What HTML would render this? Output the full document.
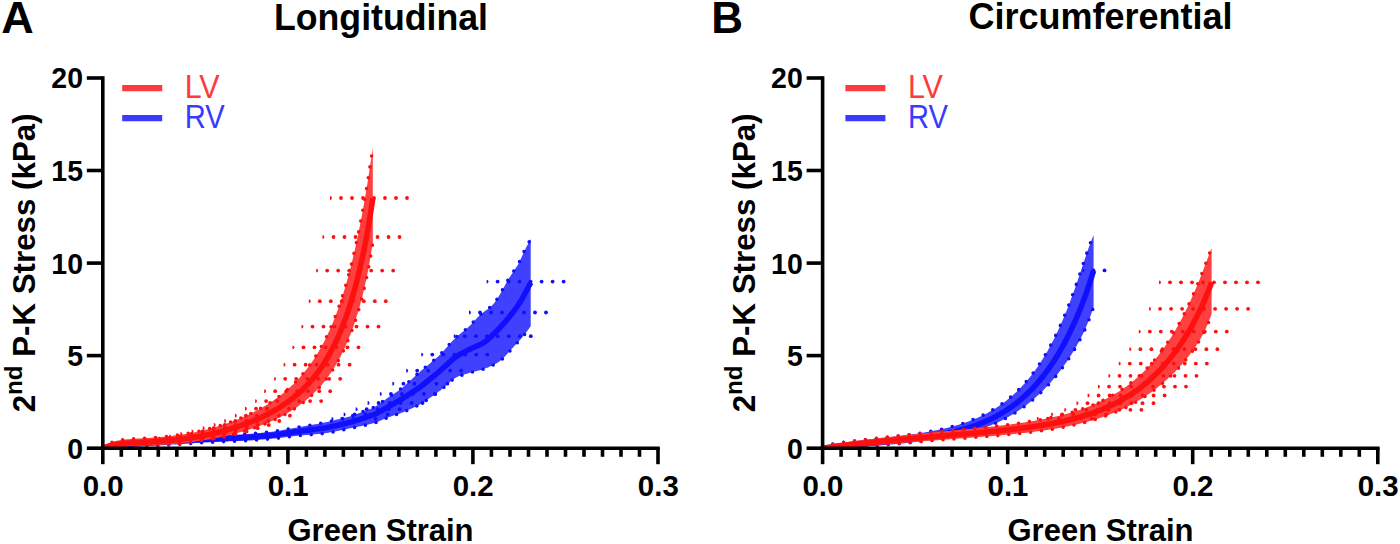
<!DOCTYPE html>
<html><head><meta charset="utf-8"><style>
html,body{margin:0;padding:0;background:#fff;width:1400px;height:544px;overflow:hidden}
svg{display:block}
text{font-family:"Liberation Sans",sans-serif}
.tk{font-size:30px;font-weight:bold;fill:#000}
.pl{font-size:43px;font-weight:bold;fill:#000}
.ti{font-size:36px;font-weight:bold;fill:#000}
.xl{font-size:31px;font-weight:bold;fill:#000}
.yl{font-size:31.3px;font-weight:bold;fill:#000}
.lg{font-size:32.5px;font-weight:normal}
</style></head><body>
<svg width="1400" height="544" viewBox="0 0 1400 544">
<defs><clipPath id="cpA"><rect x="104" y="0" width="600" height="448.5"/></clipPath><clipPath id="cpB"><rect x="824" y="0" width="576" height="448.5"/></clipPath></defs><g clip-path="url(#cpA)"><path d="M102.8,448.2 L104.7,447.6 L106.6,447.0 L108.6,446.5 L110.5,445.9 L112.4,445.3 L114.3,444.7 L116.2,444.1 L118.2,443.6 L120.1,443.0 L122.0,442.5 L124.0,442.1 L125.9,441.7 L127.9,441.4 L129.9,441.2 L131.9,441.0 L133.9,440.8 L135.9,440.6 L137.9,440.5 L139.9,440.3 L141.9,440.1 L143.9,440.0 L145.9,439.8 L147.9,439.7 L149.9,439.5 L151.9,439.3 L153.9,439.2 L155.9,439.0 L157.9,438.9 L159.9,438.7 L161.9,438.5 L163.9,438.4 L165.9,438.2 L167.9,438.1 L169.9,437.9 L171.9,437.8 L173.9,437.6 L175.9,437.5 L177.9,437.3 L179.9,437.2 L181.9,437.1 L183.9,437.0 L185.9,436.8 L187.9,436.7 L189.9,436.6 L191.9,436.5 L193.9,436.4 L195.9,436.3 L197.9,436.2 L199.9,436.1 L201.9,436.0 L203.9,435.9 L205.9,435.9 L208.0,435.8 L210.0,435.8 L212.0,435.7 L214.0,435.7 L216.0,435.6 L218.0,435.6 L220.0,435.5 L222.0,435.5 L224.0,435.4 L226.0,435.3 L228.0,435.2 L230.0,435.1 L232.0,435.0 L234.0,434.9 L236.0,434.7 L238.0,434.6 L240.0,434.5 L242.0,434.4 L244.0,434.3 L246.0,434.1 L248.0,434.0 L250.0,433.8 L252.0,433.7 L254.0,433.5 L256.0,433.3 L258.0,433.1 L260.0,432.9 L262.0,432.7 L264.0,432.5 L266.0,432.3 L268.0,432.1 L270.0,431.9 L272.0,431.7 L274.0,431.4 L276.0,431.1 L278.0,430.8 L279.9,430.5 L281.9,430.2 L283.9,429.8 L285.9,429.5 L287.8,429.1 L289.8,428.8 L291.8,428.4 L293.8,428.1 L295.8,427.7 L297.7,427.4 L299.7,427.0 L301.7,426.7 L303.7,426.3 L305.6,426.0 L307.6,425.6 L309.6,425.3 L311.6,424.9 L313.5,424.6 L315.5,424.2 L317.5,423.9 L319.5,423.5 L321.4,423.1 L323.4,422.7 L325.4,422.3 L327.3,421.9 L329.3,421.5 L331.2,421.0 L333.2,420.6 L335.1,420.1 L337.1,419.6 L339.0,419.2 L341.0,418.7 L342.9,418.3 L344.9,417.8 L346.8,417.3 L348.8,416.7 L350.7,416.2 L352.6,415.5 L354.5,414.9 L356.4,414.2 L358.2,413.5 L360.1,412.8 L362.0,412.0 L363.9,411.3 L365.7,410.6 L367.6,409.9 L369.5,409.2 L371.3,408.4 L373.1,407.6 L374.9,406.7 L376.6,405.7 L378.3,404.6 L380.0,403.5 L381.6,402.3 L383.2,401.1 L384.8,400.0 L386.5,398.8 L388.1,397.6 L389.8,396.5 L391.4,395.4 L393.1,394.3 L394.8,393.2 L396.5,392.1 L398.1,390.9 L399.7,389.8 L401.3,388.5 L402.8,387.2 L404.3,385.9 L405.8,384.6 L407.3,383.2 L408.8,381.9 L410.3,380.5 L411.8,379.2 L413.3,377.8 L414.7,376.5 L416.2,375.1 L417.7,373.8 L419.2,372.5 L420.7,371.1 L422.3,369.8 L423.8,368.5 L425.3,367.3 L426.9,366.0 L428.4,364.7 L429.9,363.4 L431.5,362.1 L433.0,360.8 L434.6,359.5 L436.1,358.2 L437.6,356.9 L439.1,355.6 L440.5,354.2 L441.9,352.7 L443.3,351.3 L444.6,349.8 L445.9,348.3 L447.3,346.8 L448.6,345.3 L449.9,343.8 L451.3,342.3 L452.6,340.8 L454.0,339.4 L455.4,338.0 L456.9,336.6 L458.4,335.3 L460.0,334.0 L461.5,332.8 L463.1,331.5 L464.7,330.3 L466.2,329.0 L467.7,327.7 L469.2,326.3 L470.7,325.0 L472.0,323.5 L473.4,322.0 L474.7,320.5 L476.1,319.1 L477.4,317.6 L478.8,316.2 L480.3,314.8 L481.8,313.5 L483.4,312.3 L485.0,311.1 L486.6,309.9 L488.2,308.8 L489.8,307.5 L491.3,306.2 L492.7,304.8 L494.0,303.3 L495.2,301.7 L496.3,300.1 L497.5,298.5 L498.5,296.8 L499.6,295.1 L500.6,293.3 L501.5,291.6 L502.5,289.8 L503.5,288.0 L504.4,286.3 L505.4,284.5 L506.4,282.8 L507.3,281.0 L508.4,279.3 L509.4,277.6 L510.5,275.9 L511.6,274.2 L512.7,272.6 L513.9,270.9 L515.0,269.3 L516.1,267.6 L517.2,265.9 L518.2,264.2 L519.2,262.5 L520.0,260.7 L520.9,258.8 L521.7,257.0 L522.5,255.2 L523.3,253.3 L524.1,251.5 L525.0,249.7 L525.9,247.9 L526.9,246.1 L527.8,244.4 L528.8,242.6 L529.7,240.9 L530.7,239.1 L530.7,326.2 L529.6,327.8 L528.4,329.5 L527.2,331.1 L526.0,332.7 L524.8,334.3 L523.5,335.8 L522.2,337.3 L520.9,338.9 L519.5,340.4 L518.2,341.9 L516.8,343.3 L515.5,344.8 L514.1,346.3 L512.8,347.8 L511.4,349.3 L510.1,350.8 L508.7,352.3 L507.4,353.7 L506.0,355.2 L504.6,356.7 L503.3,358.1 L501.8,359.5 L500.3,360.8 L498.7,361.9 L497.1,363.0 L495.3,363.9 L493.5,364.8 L491.7,365.7 L489.9,366.5 L488.1,367.4 L486.2,368.1 L484.3,368.8 L482.4,369.4 L480.5,370.0 L478.6,370.5 L476.6,371.0 L474.7,371.5 L472.7,372.0 L470.8,372.6 L468.9,373.1 L466.9,373.7 L465.0,374.2 L463.1,374.8 L461.2,375.4 L459.3,376.1 L457.5,376.8 L455.7,377.7 L454.0,378.7 L452.4,379.9 L450.9,381.1 L449.4,382.4 L447.9,383.8 L446.4,385.1 L444.9,386.5 L443.4,387.8 L441.9,389.1 L440.4,390.4 L438.8,391.6 L437.2,392.8 L435.6,394.0 L433.9,395.2 L432.3,396.3 L430.6,397.4 L429.0,398.6 L427.3,399.7 L425.6,400.8 L424.0,401.9 L422.3,403.0 L420.6,404.1 L418.8,405.0 L417.0,405.9 L415.2,406.8 L413.4,407.7 L411.6,408.5 L409.8,409.3 L407.9,410.1 L406.1,410.9 L404.2,411.8 L402.4,412.5 L400.5,413.2 L398.6,413.9 L396.7,414.5 L394.8,415.1 L392.9,415.7 L391.0,416.4 L389.1,417.0 L387.2,417.7 L385.4,418.5 L383.5,419.3 L381.7,420.1 L379.9,420.9 L378.0,421.7 L376.1,422.4 L374.2,423.0 L372.3,423.5 L370.4,424.0 L368.4,424.5 L366.5,424.9 L364.5,425.3 L362.5,425.7 L360.6,426.2 L358.6,426.6 L356.6,427.0 L354.7,427.4 L352.7,427.8 L350.7,428.2 L348.8,428.6 L346.8,429.0 L344.8,429.4 L342.9,429.9 L340.9,430.3 L338.9,430.7 L337.0,431.1 L335.0,431.5 L333.0,431.9 L331.1,432.2 L329.1,432.6 L327.1,433.0 L325.1,433.3 L323.2,433.5 L321.2,433.7 L319.2,433.9 L317.2,434.1 L315.2,434.2 L313.2,434.4 L311.2,434.6 L309.2,434.7 L307.1,434.9 L305.1,435.0 L303.1,435.2 L301.1,435.4 L299.1,435.6 L297.2,435.8 L295.2,436.0 L293.2,436.3 L291.2,436.5 L289.2,436.7 L287.2,437.0 L285.2,437.2 L283.2,437.5 L281.2,437.7 L279.2,438.0 L277.2,438.2 L275.2,438.4 L273.2,438.6 L271.2,438.8 L269.2,439.0 L267.2,439.1 L265.2,439.3 L263.2,439.4 L261.2,439.6 L259.2,439.8 L257.2,439.9 L255.2,440.1 L253.2,440.2 L251.2,440.4 L249.2,440.5 L247.2,440.6 L245.2,440.7 L243.2,440.8 L241.2,440.9 L239.2,440.9 L237.2,441.0 L235.2,441.1 L233.1,441.2 L231.1,441.3 L229.1,441.3 L227.1,441.4 L225.1,441.5 L223.1,441.6 L221.1,441.7 L219.1,441.8 L217.1,441.9 L215.1,442.0 L213.1,442.1 L211.1,442.2 L209.1,442.3 L207.1,442.4 L205.1,442.5 L203.1,442.6 L201.1,442.8 L199.0,442.9 L197.0,443.0 L195.0,443.1 L193.0,443.3 L191.0,443.4 L189.0,443.5 L187.0,443.7 L185.0,443.8 L183.0,444.0 L181.0,444.1 L179.0,444.2 L177.0,444.4 L175.0,444.5 L173.0,444.6 L171.0,444.7 L169.0,444.9 L167.0,445.0 L165.0,445.1 L163.0,445.2 L161.0,445.3 L159.0,445.5 L157.0,445.6 L155.0,445.7 L152.9,445.8 L150.9,445.9 L148.9,446.1 L146.9,446.2 L144.9,446.3 L142.9,446.4 L140.9,446.5 L138.9,446.7 L136.9,446.8 L134.9,446.9 L132.9,447.0 L130.9,447.1 L128.9,447.3 L126.9,447.4 L124.9,447.5 L122.9,447.5 L120.9,447.6 L118.9,447.7 L116.9,447.8 L114.8,447.8 L112.8,447.9 L110.8,447.9 L108.8,448.0 L106.8,448.1 L104.8,448.1 L102.8,448.2 Z" fill="#4040ff"/><path d="M102.8,448.2 L104.7,447.6 L106.6,447.0 L108.6,446.5 L110.5,445.9 L112.4,445.3 L114.3,444.7 L116.2,444.1 L118.2,443.6 L120.1,443.0 L122.0,442.5 L124.0,442.1 L125.9,441.7 L127.9,441.4 L129.9,441.2 L131.9,441.0 L133.9,440.8 L135.9,440.6 L137.9,440.5 L139.9,440.3 L141.9,440.1 L143.9,440.0 L145.9,439.8 L147.9,439.7 L149.9,439.5 L151.9,439.3 L153.9,439.2 L155.9,439.0 L157.9,438.9 L159.9,438.7 L161.9,438.5 L163.9,438.4 L165.9,438.2 L167.9,438.1 L169.9,437.9 L171.9,437.8 L173.9,437.6 L175.9,437.5 L177.9,437.3 L179.9,437.2 L181.9,437.1 L183.9,437.0 L185.9,436.8 L187.9,436.7 L189.9,436.6 L191.9,436.5 L193.9,436.4 L195.9,436.3 L197.9,436.2 L199.9,436.1 L201.9,436.0 L203.9,435.9 L205.9,435.9 L208.0,435.8 L210.0,435.8 L212.0,435.7 L214.0,435.7 L216.0,435.6 L218.0,435.6 L220.0,435.5 L222.0,435.5 L224.0,435.4 L226.0,435.3 L228.0,435.2 L230.0,435.1 L232.0,435.0 L234.0,434.9 L236.0,434.7 L238.0,434.6 L240.0,434.5 L242.0,434.4 L244.0,434.3 L246.0,434.1 L248.0,434.0 L250.0,433.8 L252.0,433.7 L254.0,433.5 L256.0,433.3 L258.0,433.1 L260.0,432.9 L262.0,432.7 L264.0,432.5 L266.0,432.3 L268.0,432.1 L270.0,431.9 L272.0,431.7 L274.0,431.4 L276.0,431.1 L278.0,430.8 L279.9,430.5 L281.9,430.2 L283.9,429.8 L285.9,429.5 L287.8,429.1 L289.8,428.8 L291.8,428.4 L293.8,428.1 L295.8,427.7 L297.7,427.4 L299.7,427.0 L301.7,426.7 L303.7,426.3 L305.6,426.0 L307.6,425.6 L309.6,425.3 L311.6,424.9 L313.5,424.6 L315.5,424.2 L317.5,423.9 L319.5,423.5 L321.4,423.1 L323.4,422.7 L325.4,422.3 L327.3,421.9 L329.3,421.5 L331.2,421.0 L333.2,420.6 L335.1,420.1 L337.1,419.6 L339.0,419.2 L341.0,418.7 L342.9,418.3 L344.9,417.8 L346.8,417.3 L348.8,416.7 L350.7,416.2 L352.6,415.5 L354.5,414.9 L356.4,414.2 L358.2,413.5 L360.1,412.8 L362.0,412.0 L363.9,411.3 L365.7,410.6 L367.6,409.9 L369.5,409.2 L371.3,408.4 L373.1,407.6 L374.9,406.7 L376.6,405.7 L378.3,404.6 L380.0,403.5 L381.6,402.3 L383.2,401.1 L384.8,400.0 L386.5,398.8 L388.1,397.6 L389.8,396.5 L391.4,395.4 L393.1,394.3 L394.8,393.2 L396.5,392.1 L398.1,390.9 L399.7,389.8 L401.3,388.5 L402.8,387.2 L404.3,385.9 L405.8,384.6 L407.3,383.2 L408.8,381.9 L410.3,380.5 L411.8,379.2 L413.3,377.8 L414.7,376.5 L416.2,375.1 L417.7,373.8 L419.2,372.5 L420.7,371.1 L422.3,369.8 L423.8,368.5 L425.3,367.3 L426.9,366.0 L428.4,364.7 L429.9,363.4 L431.5,362.1 L433.0,360.8 L434.6,359.5 L436.1,358.2 L437.6,356.9 L439.1,355.6 L440.5,354.2 L441.9,352.7 L443.3,351.3 L444.6,349.8 L445.9,348.3 L447.3,346.8 L448.6,345.3 L449.9,343.8 L451.3,342.3 L452.6,340.8 L454.0,339.4 L455.4,338.0 L456.9,336.6 L458.4,335.3 L460.0,334.0 L461.5,332.8 L463.1,331.5 L464.7,330.3 L466.2,329.0 L467.7,327.7 L469.2,326.3 L470.7,325.0 L472.0,323.5 L473.4,322.0 L474.7,320.5 L476.1,319.1 L477.4,317.6 L478.8,316.2 L480.3,314.8 L481.8,313.5 L483.4,312.3 L485.0,311.1 L486.6,309.9 L488.2,308.8 L489.8,307.5 L491.3,306.2 L492.7,304.8 L494.0,303.3 L495.2,301.7 L496.3,300.1 L497.5,298.5 L498.5,296.8 L499.6,295.1 L500.6,293.3 L501.5,291.6 L502.5,289.8 L503.5,288.0 L504.4,286.3 L505.4,284.5 L506.4,282.8 L507.3,281.0 L508.4,279.3 L509.4,277.6 L510.5,275.9 L511.6,274.2 L512.7,272.6 L513.9,270.9 L515.0,269.3 L516.1,267.6 L517.2,265.9 L518.2,264.2 L519.2,262.5 L520.0,260.7 L520.9,258.8 L521.7,257.0 L522.5,255.2 L523.3,253.3 L524.1,251.5 L525.0,249.7 L525.9,247.9 L526.9,246.1 L527.8,244.4 L528.8,242.6 L529.7,240.9 L530.7,239.1" fill="none" stroke="#1010ff" stroke-width="3.6" stroke-linecap="round" stroke-dasharray="0 11"/><path d="M102.8,448.2 L104.8,448.1 L106.8,448.1 L108.8,448.0 L110.8,447.9 L112.8,447.9 L114.8,447.8 L116.9,447.8 L118.9,447.7 L120.9,447.6 L122.9,447.5 L124.9,447.5 L126.9,447.4 L128.9,447.3 L130.9,447.1 L132.9,447.0 L134.9,446.9 L136.9,446.8 L138.9,446.7 L140.9,446.5 L142.9,446.4 L144.9,446.3 L146.9,446.2 L148.9,446.1 L150.9,445.9 L152.9,445.8 L155.0,445.7 L157.0,445.6 L159.0,445.5 L161.0,445.3 L163.0,445.2 L165.0,445.1 L167.0,445.0 L169.0,444.9 L171.0,444.7 L173.0,444.6 L175.0,444.5 L177.0,444.4 L179.0,444.2 L181.0,444.1 L183.0,444.0 L185.0,443.8 L187.0,443.7 L189.0,443.5 L191.0,443.4 L193.0,443.3 L195.0,443.1 L197.0,443.0 L199.0,442.9 L201.1,442.8 L203.1,442.6 L205.1,442.5 L207.1,442.4 L209.1,442.3 L211.1,442.2 L213.1,442.1 L215.1,442.0 L217.1,441.9 L219.1,441.8 L221.1,441.7 L223.1,441.6 L225.1,441.5 L227.1,441.4 L229.1,441.3 L231.1,441.3 L233.1,441.2 L235.2,441.1 L237.2,441.0 L239.2,440.9 L241.2,440.9 L243.2,440.8 L245.2,440.7 L247.2,440.6 L249.2,440.5 L251.2,440.4 L253.2,440.2 L255.2,440.1 L257.2,439.9 L259.2,439.8 L261.2,439.6 L263.2,439.4 L265.2,439.3 L267.2,439.1 L269.2,439.0 L271.2,438.8 L273.2,438.6 L275.2,438.4 L277.2,438.2 L279.2,438.0 L281.2,437.7 L283.2,437.5 L285.2,437.2 L287.2,437.0 L289.2,436.7 L291.2,436.5 L293.2,436.3 L295.2,436.0 L297.2,435.8 L299.1,435.6 L301.1,435.4 L303.1,435.2 L305.1,435.0 L307.1,434.9 L309.2,434.7 L311.2,434.6 L313.2,434.4 L315.2,434.2 L317.2,434.1 L319.2,433.9 L321.2,433.7 L323.2,433.5 L325.1,433.3 L327.1,433.0 L329.1,432.6 L331.1,432.2 L333.0,431.9 L335.0,431.5 L337.0,431.1 L338.9,430.7 L340.9,430.3 L342.9,429.9 L344.8,429.4 L346.8,429.0 L348.8,428.6 L350.7,428.2 L352.7,427.8 L354.7,427.4 L356.6,427.0 L358.6,426.6 L360.6,426.2 L362.5,425.7 L364.5,425.3 L366.5,424.9 L368.4,424.5 L370.4,424.0 L372.3,423.5 L374.2,423.0 L376.1,422.4 L378.0,421.7 L379.9,420.9 L381.7,420.1 L383.5,419.3 L385.4,418.5 L387.2,417.7 L389.1,417.0 L391.0,416.4 L392.9,415.7 L394.8,415.1 L396.7,414.5 L398.6,413.9 L400.5,413.2 L402.4,412.5 L404.2,411.8 L406.1,410.9 L407.9,410.1 L409.8,409.3 L411.6,408.5 L413.4,407.7 L415.2,406.8 L417.0,405.9 L418.8,405.0 L420.6,404.1 L422.3,403.0 L424.0,401.9 L425.6,400.8 L427.3,399.7 L429.0,398.6 L430.6,397.4 L432.3,396.3 L433.9,395.2 L435.6,394.0 L437.2,392.8 L438.8,391.6 L440.4,390.4 L441.9,389.1 L443.4,387.8 L444.9,386.5 L446.4,385.1 L447.9,383.8 L449.4,382.4 L450.9,381.1 L452.4,379.9 L454.0,378.7 L455.7,377.7 L457.5,376.8 L459.3,376.1 L461.2,375.4 L463.1,374.8 L465.0,374.2 L466.9,373.7 L468.9,373.1 L470.8,372.6 L472.7,372.0 L474.7,371.5 L476.6,371.0 L478.6,370.5 L480.5,370.0 L482.4,369.4 L484.3,368.8 L486.2,368.1 L488.1,367.4 L489.9,366.5 L491.7,365.7 L493.5,364.8 L495.3,363.9 L497.1,363.0 L498.7,361.9 L500.3,360.8 L501.8,359.5 L503.3,358.1 L504.6,356.7 L506.0,355.2 L507.4,353.7 L508.7,352.3 L510.1,350.8 L511.4,349.3 L512.8,347.8 L514.1,346.3 L515.5,344.8 L516.8,343.3 L518.2,341.9 L519.5,340.4 L520.9,338.9 L522.2,337.3 L523.5,335.8 L524.8,334.3 L526.0,332.7 L527.2,331.1 L528.4,329.5 L529.6,327.8 L530.7,326.2" fill="none" stroke="#1010ff" stroke-width="3.6" stroke-linecap="round" stroke-dasharray="0 11"/><path d="M102.8,448.2 L104.8,447.9 L106.8,447.5 L108.7,447.2 L110.7,446.9 L112.7,446.6 L114.7,446.2 L116.6,445.9 L118.6,445.6 L120.6,445.3 L122.6,445.0 L124.6,444.7 L126.6,444.5 L128.6,444.3 L130.6,444.1 L132.6,444.0 L134.6,443.9 L136.6,443.7 L138.6,443.6 L140.6,443.4 L142.6,443.3 L144.6,443.2 L146.6,443.0 L148.6,442.9 L150.6,442.8 L152.6,442.6 L154.6,442.5 L156.6,442.3 L158.6,442.2 L160.6,442.0 L162.6,441.9 L164.6,441.8 L166.6,441.6 L168.6,441.5 L170.6,441.3 L172.6,441.2 L174.6,441.0 L176.6,440.9 L178.6,440.8 L180.6,440.7 L182.6,440.5 L184.6,440.4 L186.6,440.3 L188.6,440.2 L190.6,440.1 L192.6,439.9 L194.6,439.8 L196.6,439.7 L198.6,439.6 L200.6,439.5 L202.6,439.4 L204.6,439.3 L206.6,439.2 L208.6,439.2 L210.6,439.1 L212.6,439.0 L214.6,438.9 L216.6,438.8 L218.6,438.8 L220.6,438.7 L222.6,438.6 L224.6,438.5 L226.6,438.4 L228.6,438.3 L230.6,438.2 L232.6,438.1 L234.6,438.0 L236.7,437.9 L238.7,437.8 L240.7,437.7 L242.7,437.6 L244.7,437.5 L246.7,437.4 L248.7,437.2 L250.7,437.1 L252.7,436.9 L254.7,436.8 L256.7,436.6 L258.7,436.4 L260.7,436.3 L262.7,436.1 L264.7,435.9 L266.6,435.7 L268.6,435.6 L270.6,435.4 L272.6,435.2 L274.6,434.9 L276.6,434.7 L278.6,434.4 L280.6,434.1 L282.6,433.8 L284.6,433.5 L286.5,433.2 L288.5,432.9 L290.5,432.6 L292.5,432.3 L294.5,432.0 L296.5,431.7 L298.4,431.5 L300.4,431.2 L302.4,430.9 L304.4,430.6 L306.4,430.4 L308.4,430.1 L310.4,429.9 L312.4,429.6 L314.3,429.4 L316.3,429.1 L318.3,428.8 L320.3,428.6 L322.3,428.3 L324.3,428.0 L326.2,427.6 L328.2,427.3 L330.2,426.8 L332.1,426.4 L334.1,426.0 L336.0,425.6 L338.0,425.1 L340.0,424.7 L341.9,424.3 L343.9,423.8 L345.8,423.4 L347.8,422.9 L349.7,422.4 L351.7,421.9 L353.6,421.3 L355.5,420.7 L357.4,420.1 L359.3,419.5 L361.2,418.9 L363.1,418.2 L365.0,417.6 L366.9,417.0 L368.8,416.4 L370.7,415.7 L372.6,415.0 L374.5,414.3 L376.3,413.5 L378.1,412.6 L379.8,411.6 L381.6,410.7 L383.3,409.7 L385.1,408.7 L386.8,407.7 L388.6,406.7 L390.3,405.7 L392.0,404.7 L393.8,403.7 L395.5,402.7 L397.3,401.7 L399.0,400.7 L400.7,399.7 L402.4,398.6 L404.1,397.5 L405.8,396.5 L407.5,395.4 L409.2,394.3 L410.8,393.2 L412.5,392.1 L414.2,391.0 L415.9,389.9 L417.6,388.8 L419.2,387.7 L420.8,386.5 L422.4,385.3 L424.0,384.0 L425.5,382.8 L427.1,381.5 L428.7,380.2 L430.2,379.0 L431.8,377.7 L433.3,376.4 L434.9,375.2 L436.4,373.9 L438.0,372.6 L439.5,371.3 L441.0,370.0 L442.5,368.6 L444.0,367.3 L445.4,365.9 L446.9,364.6 L448.4,363.2 L449.8,361.8 L451.3,360.5 L452.8,359.2 L454.4,358.0 L456.0,356.8 L457.7,355.7 L459.4,354.7 L461.1,353.7 L462.9,352.8 L464.7,351.8 L466.5,350.9 L468.2,350.0 L470.0,349.1 L471.9,348.3 L473.7,347.4 L475.5,346.6 L477.3,345.8 L479.2,345.0 L481.0,344.1 L482.7,343.2 L484.4,342.2 L486.0,341.0 L487.5,339.8 L489.0,338.4 L490.5,337.1 L491.9,335.7 L493.3,334.3 L494.8,332.9 L496.2,331.5 L497.6,330.1 L499.0,328.6 L500.4,327.2 L501.7,325.7 L503.1,324.2 L504.4,322.7 L505.7,321.2 L507.0,319.6 L508.3,318.1 L509.6,316.6 L510.8,315.0 L512.1,313.4 L513.3,311.8 L514.5,310.2 L515.7,308.6 L516.8,307.0 L518.0,305.3 L519.1,303.6 L520.1,301.9 L521.2,300.2 L522.2,298.5 L523.2,296.8 L524.1,295.0 L525.1,293.2 L526.0,291.5 L527.0,289.7 L527.9,287.9 L528.8,286.1 L529.8,284.4 L530.7,282.6" fill="none" stroke="#1010ff" stroke-width="5.5" stroke-linecap="butt" stroke-linejoin="round"/><g fill="#1010ff"><path d="M486.6,279.7 A1.9,1.9 0 0 1 486.6,283.5 Z"/><circle cx="497.6" cy="281.6" r="1.9"/><circle cx="508.6" cy="281.6" r="1.9"/><circle cx="519.6" cy="281.6" r="1.9"/><circle cx="530.6" cy="281.6" r="1.9"/><circle cx="541.6" cy="281.6" r="1.9"/><circle cx="552.6" cy="281.6" r="1.9"/><circle cx="563.6" cy="281.6" r="1.9"/><path d="M469.0,310.6 A1.9,1.9 0 0 1 469.0,314.4 Z"/><circle cx="480.0" cy="312.5" r="1.9"/><circle cx="491.0" cy="312.5" r="1.9"/><circle cx="502.0" cy="312.5" r="1.9"/><circle cx="513.0" cy="312.5" r="1.9"/><circle cx="524.0" cy="312.5" r="1.9"/><circle cx="535.0" cy="312.5" r="1.9"/><circle cx="546.0" cy="312.5" r="1.9"/><path d="M453.8,334.3 A1.9,1.9 0 0 1 453.8,338.1 Z"/><circle cx="464.8" cy="336.2" r="1.9"/><circle cx="475.8" cy="336.2" r="1.9"/><circle cx="486.8" cy="336.2" r="1.9"/><circle cx="497.8" cy="336.2" r="1.9"/><circle cx="508.8" cy="336.2" r="1.9"/><circle cx="519.8" cy="336.2" r="1.9"/><circle cx="530.8" cy="336.2" r="1.9"/><path d="M421.3,352.7 A1.9,1.9 0 0 1 421.3,356.5 Z"/><circle cx="432.3" cy="354.6" r="1.9"/><circle cx="443.3" cy="354.6" r="1.9"/><circle cx="454.3" cy="354.6" r="1.9"/><circle cx="465.3" cy="354.6" r="1.9"/><circle cx="476.3" cy="354.6" r="1.9"/><circle cx="487.3" cy="354.6" r="1.9"/><path d="M406.2,368.8 A1.9,1.9 0 0 1 406.2,372.6 Z"/><circle cx="417.2" cy="370.7" r="1.9"/><circle cx="428.2" cy="370.7" r="1.9"/><circle cx="439.2" cy="370.7" r="1.9"/><circle cx="450.2" cy="370.7" r="1.9"/><circle cx="461.2" cy="370.7" r="1.9"/><path d="M392.4,381.8 A1.9,1.9 0 0 1 392.4,385.6 Z"/><circle cx="403.4" cy="383.7" r="1.9"/><circle cx="414.4" cy="383.7" r="1.9"/><circle cx="425.4" cy="383.7" r="1.9"/><circle cx="436.4" cy="383.7" r="1.9"/><circle cx="447.4" cy="383.7" r="1.9"/><path d="M379.9,392.0 A1.9,1.9 0 0 1 379.9,395.8 Z"/><circle cx="390.9" cy="393.9" r="1.9"/><circle cx="401.9" cy="393.9" r="1.9"/><circle cx="412.9" cy="393.9" r="1.9"/><circle cx="423.9" cy="393.9" r="1.9"/><circle cx="434.9" cy="393.9" r="1.9"/><path d="M367.6,401.1 A1.9,1.9 0 0 1 367.6,404.9 Z"/><circle cx="378.6" cy="403.0" r="1.9"/><circle cx="389.6" cy="403.0" r="1.9"/><circle cx="400.6" cy="403.0" r="1.9"/><circle cx="411.6" cy="403.0" r="1.9"/><circle cx="422.6" cy="403.0" r="1.9"/><path d="M355.7,407.3 A1.9,1.9 0 0 1 355.7,411.1 Z"/><circle cx="366.7" cy="409.2" r="1.9"/><circle cx="377.7" cy="409.2" r="1.9"/><circle cx="388.7" cy="409.2" r="1.9"/><circle cx="399.7" cy="409.2" r="1.9"/><path d="M343.7,412.5 A1.9,1.9 0 0 1 343.7,416.3 Z"/><circle cx="354.7" cy="414.4" r="1.9"/><circle cx="365.7" cy="414.4" r="1.9"/><circle cx="376.7" cy="414.4" r="1.9"/><circle cx="387.7" cy="414.4" r="1.9"/><path d="M331.6,416.9 A1.9,1.9 0 0 1 331.6,420.7 Z"/><circle cx="342.6" cy="418.8" r="1.9"/><circle cx="353.6" cy="418.8" r="1.9"/><circle cx="364.6" cy="418.8" r="1.9"/><circle cx="375.6" cy="418.8" r="1.9"/></g><path d="M102.8,448.2 L103.8,447.2 L104.8,446.4 L105.8,445.6 L106.8,444.9 L107.8,444.2 L108.8,443.7 L109.8,443.2 L110.8,442.7 L111.8,442.3 L112.8,442.0 L113.8,441.6 L114.8,441.3 L115.8,441.1 L116.8,440.8 L117.8,440.6 L118.8,440.4 L119.8,440.2 L120.8,440.1 L121.8,439.9 L122.8,439.8 L123.8,439.7 L124.8,439.5 L125.8,439.4 L126.8,439.3 L127.8,439.2 L128.8,439.2 L129.8,439.1 L130.8,439.0 L131.8,438.9 L132.8,438.9 L133.8,438.8 L134.8,438.7 L135.8,438.7 L136.8,438.6 L137.8,438.5 L138.8,438.5 L139.8,438.4 L140.8,438.4 L141.8,438.3 L142.8,438.3 L143.8,438.2 L144.8,438.2 L145.8,438.1 L146.8,438.0 L147.8,438.0 L148.8,437.9 L149.8,437.9 L150.8,437.8 L151.8,437.7 L152.8,437.7 L153.8,437.6 L154.8,437.5 L155.8,437.4 L156.8,437.4 L157.8,437.3 L158.8,437.2 L159.8,437.1 L160.8,437.0 L161.8,436.9 L162.8,436.8 L163.8,436.8 L164.8,436.7 L165.8,436.6 L166.8,436.5 L167.8,436.3 L168.8,436.2 L169.8,436.1 L170.8,436.0 L171.8,435.9 L172.8,435.8 L173.8,435.6 L174.8,435.5 L175.8,435.4 L176.8,435.2 L177.8,435.1 L178.8,435.0 L179.8,434.8 L180.8,434.7 L181.8,434.5 L182.8,434.3 L183.8,434.2 L184.8,434.0 L185.8,433.9 L186.8,433.7 L187.8,433.5 L188.8,433.3 L189.8,433.1 L190.8,433.0 L191.8,432.8 L192.8,432.6 L193.8,432.4 L194.8,432.2 L195.8,432.0 L196.8,431.8 L197.8,431.5 L198.8,431.3 L199.8,431.1 L200.8,430.9 L201.8,430.6 L202.8,430.4 L203.8,430.2 L204.8,429.9 L205.8,429.7 L206.8,429.4 L207.8,429.2 L208.8,428.9 L209.8,428.6 L210.8,428.4 L211.8,428.1 L212.8,427.8 L213.8,427.5 L214.8,427.3 L215.8,427.0 L216.8,426.7 L217.8,426.4 L218.8,426.1 L219.8,425.8 L220.8,425.5 L221.8,425.1 L222.8,424.8 L223.8,424.5 L224.8,424.2 L225.8,423.8 L226.8,423.5 L227.8,423.1 L228.8,422.8 L229.8,422.4 L230.8,422.0 L231.8,421.7 L232.8,421.3 L233.8,420.9 L234.8,420.5 L235.8,420.2 L236.8,419.8 L237.8,419.4 L238.8,419.0 L239.8,418.5 L240.8,418.1 L241.8,417.7 L242.8,417.3 L243.8,416.8 L244.8,416.4 L245.8,415.9 L246.8,415.5 L247.8,415.0 L248.8,414.5 L249.8,414.1 L250.8,413.6 L251.8,413.1 L252.8,412.6 L253.8,412.1 L254.8,411.6 L255.8,411.1 L256.8,410.5 L257.8,410.0 L258.8,409.5 L259.8,408.9 L260.8,408.3 L261.8,407.8 L262.8,407.2 L263.8,406.6 L264.8,406.0 L265.8,405.4 L266.8,404.8 L267.8,404.2 L268.8,403.5 L269.8,402.9 L270.8,402.2 L271.8,401.6 L272.8,400.9 L273.8,400.2 L274.8,399.5 L275.8,398.8 L276.8,398.1 L277.8,397.4 L278.8,396.6 L279.8,395.9 L280.8,395.1 L281.8,394.3 L282.8,393.5 L283.8,392.7 L284.8,391.9 L285.8,391.0 L286.8,390.2 L287.8,389.3 L288.8,388.4 L289.8,387.5 L290.8,386.6 L291.8,385.6 L292.8,384.7 L293.8,383.7 L294.8,382.7 L295.8,381.7 L296.8,380.6 L297.8,379.6 L298.8,378.5 L299.8,377.4 L300.8,376.3 L301.8,375.1 L302.8,374.0 L303.8,372.8 L304.8,371.5 L305.8,370.3 L306.8,369.0 L307.8,367.7 L308.8,366.4 L309.8,365.0 L310.8,363.6 L311.8,362.2 L312.8,360.7 L313.8,359.2 L314.8,357.7 L315.8,356.1 L316.8,354.5 L317.8,352.9 L318.8,351.2 L319.8,349.5 L320.8,347.7 L321.8,345.9 L322.8,344.1 L323.8,342.2 L324.8,340.3 L325.8,338.3 L326.8,336.2 L327.8,334.1 L328.8,332.0 L329.8,329.8 L330.8,327.5 L331.8,325.2 L332.8,322.8 L333.8,320.3 L334.8,317.8 L335.8,315.2 L336.8,312.6 L337.8,309.9 L338.8,307.1 L339.8,304.2 L340.8,301.2 L341.8,298.2 L342.8,295.1 L343.8,291.9 L344.8,288.6 L345.8,285.2 L346.8,281.7 L347.8,278.1 L348.8,274.4 L349.8,270.6 L350.8,266.7 L351.8,262.7 L352.8,258.6 L353.8,254.3 L354.8,249.9 L355.8,245.5 L356.8,240.8 L357.8,236.1 L358.8,231.2 L359.8,226.2 L360.8,221.0 L361.8,215.8 L362.8,210.3 L363.8,204.7 L364.8,199.0 L365.8,193.1 L366.8,187.1 L367.8,180.9 L368.8,174.5 L369.8,168.0 L370.8,161.3 L371.8,154.5 L372.8,147.6 L372.8,242.6 L371.8,249.0 L370.8,255.1 L369.8,260.9 L368.8,266.4 L367.8,271.7 L366.8,276.7 L365.8,281.4 L364.8,286.0 L363.8,290.3 L362.8,294.4 L361.8,298.4 L360.8,302.3 L359.8,305.9 L358.8,309.5 L357.8,312.9 L356.8,316.1 L355.8,319.3 L354.8,322.3 L353.8,325.3 L352.8,328.1 L351.8,330.9 L350.8,333.5 L349.8,336.1 L348.8,338.6 L347.8,341.0 L346.8,343.3 L345.8,345.6 L344.8,347.8 L343.8,350.0 L342.8,352.0 L341.8,354.0 L340.8,356.0 L339.8,357.9 L338.8,359.7 L337.8,361.5 L336.8,363.3 L335.8,365.0 L334.8,366.6 L333.8,368.3 L332.8,369.8 L331.8,371.4 L330.8,372.8 L329.8,374.3 L328.8,375.7 L327.8,377.1 L326.8,378.4 L325.8,379.8 L324.8,381.0 L323.8,382.3 L322.8,383.5 L321.8,384.7 L320.8,385.9 L319.8,387.0 L318.8,388.1 L317.8,389.2 L316.8,390.2 L315.8,391.3 L314.8,392.3 L313.8,393.3 L312.8,394.2 L311.8,395.2 L310.8,396.1 L309.8,397.0 L308.8,397.9 L307.8,398.8 L306.8,399.6 L305.8,400.4 L304.8,401.3 L303.8,402.0 L302.8,402.8 L301.8,403.6 L300.8,404.3 L299.8,405.1 L298.8,405.8 L297.8,406.5 L296.8,407.2 L295.8,407.9 L294.8,408.5 L293.8,409.2 L292.8,409.8 L291.8,410.5 L290.8,411.1 L289.8,411.7 L288.8,412.3 L287.8,412.9 L286.8,413.5 L285.8,414.0 L284.8,414.6 L283.8,415.1 L282.8,415.7 L281.8,416.2 L280.8,416.7 L279.8,417.2 L278.8,417.7 L277.8,418.2 L276.8,418.7 L275.8,419.2 L274.8,419.7 L273.8,420.1 L272.8,420.6 L271.8,421.0 L270.8,421.5 L269.8,421.9 L268.8,422.3 L267.8,422.7 L266.8,423.2 L265.8,423.6 L264.8,424.0 L263.8,424.4 L262.8,424.8 L261.8,425.1 L260.8,425.5 L259.8,425.9 L258.8,426.3 L257.8,426.6 L256.8,427.0 L255.8,427.3 L254.8,427.7 L253.8,428.0 L252.8,428.4 L251.8,428.7 L250.8,429.0 L249.8,429.4 L248.8,429.7 L247.8,430.0 L246.8,430.3 L245.8,430.6 L244.8,430.9 L243.8,431.2 L242.8,431.5 L241.8,431.8 L240.8,432.1 L239.8,432.4 L238.8,432.6 L237.8,432.9 L236.8,433.2 L235.8,433.4 L234.8,433.7 L233.8,434.0 L232.8,434.2 L231.8,434.5 L230.8,434.7 L229.8,435.0 L228.8,435.2 L227.8,435.5 L226.8,435.7 L225.8,435.9 L224.8,436.1 L223.8,436.4 L222.8,436.6 L221.8,436.8 L220.8,437.0 L219.8,437.2 L218.8,437.4 L217.8,437.7 L216.8,437.9 L215.8,438.1 L214.8,438.3 L213.8,438.4 L212.8,438.6 L211.8,438.8 L210.8,439.0 L209.8,439.2 L208.8,439.4 L207.8,439.5 L206.8,439.7 L205.8,439.9 L204.8,440.1 L203.8,440.2 L202.8,440.4 L201.8,440.5 L200.8,440.7 L199.8,440.9 L198.8,441.0 L197.8,441.2 L196.8,441.3 L195.8,441.4 L194.8,441.6 L193.8,441.7 L192.8,441.9 L191.8,442.0 L190.8,442.1 L189.8,442.2 L188.8,442.4 L187.8,442.5 L186.8,442.6 L185.8,442.7 L184.8,442.8 L183.8,443.0 L182.8,443.1 L181.8,443.2 L180.8,443.3 L179.8,443.4 L178.8,443.5 L177.8,443.6 L176.8,443.7 L175.8,443.8 L174.8,443.9 L173.8,443.9 L172.8,444.0 L171.8,444.1 L170.8,444.2 L169.8,444.3 L168.8,444.4 L167.8,444.4 L166.8,444.5 L165.8,444.6 L164.8,444.6 L163.8,444.7 L162.8,444.8 L161.8,444.8 L160.8,444.9 L159.8,445.0 L158.8,445.0 L157.8,445.1 L156.8,445.1 L155.8,445.2 L154.8,445.2 L153.8,445.3 L152.8,445.3 L151.8,445.4 L150.8,445.4 L149.8,445.5 L148.8,445.5 L147.8,445.5 L146.8,445.6 L145.8,445.6 L144.8,445.7 L143.8,445.7 L142.8,445.7 L141.8,445.8 L140.8,445.8 L139.8,445.8 L138.8,445.9 L137.8,445.9 L136.8,446.0 L135.8,446.0 L134.8,446.0 L133.8,446.1 L132.8,446.1 L131.8,446.2 L130.8,446.2 L129.8,446.3 L128.8,446.3 L127.8,446.4 L126.8,446.4 L125.8,446.5 L124.8,446.5 L123.8,446.6 L122.8,446.7 L121.8,446.7 L120.8,446.8 L119.8,446.9 L118.8,447.0 L117.8,447.1 L116.8,447.2 L115.8,447.2 L114.8,447.3 L113.8,447.4 L112.8,447.5 L111.8,447.6 L110.8,447.7 L109.8,447.8 L108.8,447.9 L107.8,448.0 L106.8,448.1 L105.8,448.1 L104.8,448.2 L103.8,448.2 L102.8,448.2 Z" fill="#ff4040"/><path d="M102.8,448.2 L103.8,447.2 L104.8,446.4 L105.8,445.6 L106.8,444.9 L107.8,444.2 L108.8,443.7 L109.8,443.2 L110.8,442.7 L111.8,442.3 L112.8,442.0 L113.8,441.6 L114.8,441.3 L115.8,441.1 L116.8,440.8 L117.8,440.6 L118.8,440.4 L119.8,440.2 L120.8,440.1 L121.8,439.9 L122.8,439.8 L123.8,439.7 L124.8,439.5 L125.8,439.4 L126.8,439.3 L127.8,439.2 L128.8,439.2 L129.8,439.1 L130.8,439.0 L131.8,438.9 L132.8,438.9 L133.8,438.8 L134.8,438.7 L135.8,438.7 L136.8,438.6 L137.8,438.5 L138.8,438.5 L139.8,438.4 L140.8,438.4 L141.8,438.3 L142.8,438.3 L143.8,438.2 L144.8,438.2 L145.8,438.1 L146.8,438.0 L147.8,438.0 L148.8,437.9 L149.8,437.9 L150.8,437.8 L151.8,437.7 L152.8,437.7 L153.8,437.6 L154.8,437.5 L155.8,437.4 L156.8,437.4 L157.8,437.3 L158.8,437.2 L159.8,437.1 L160.8,437.0 L161.8,436.9 L162.8,436.8 L163.8,436.8 L164.8,436.7 L165.8,436.6 L166.8,436.5 L167.8,436.3 L168.8,436.2 L169.8,436.1 L170.8,436.0 L171.8,435.9 L172.8,435.8 L173.8,435.6 L174.8,435.5 L175.8,435.4 L176.8,435.2 L177.8,435.1 L178.8,435.0 L179.8,434.8 L180.8,434.7 L181.8,434.5 L182.8,434.3 L183.8,434.2 L184.8,434.0 L185.8,433.9 L186.8,433.7 L187.8,433.5 L188.8,433.3 L189.8,433.1 L190.8,433.0 L191.8,432.8 L192.8,432.6 L193.8,432.4 L194.8,432.2 L195.8,432.0 L196.8,431.8 L197.8,431.5 L198.8,431.3 L199.8,431.1 L200.8,430.9 L201.8,430.6 L202.8,430.4 L203.8,430.2 L204.8,429.9 L205.8,429.7 L206.8,429.4 L207.8,429.2 L208.8,428.9 L209.8,428.6 L210.8,428.4 L211.8,428.1 L212.8,427.8 L213.8,427.5 L214.8,427.3 L215.8,427.0 L216.8,426.7 L217.8,426.4 L218.8,426.1 L219.8,425.8 L220.8,425.5 L221.8,425.1 L222.8,424.8 L223.8,424.5 L224.8,424.2 L225.8,423.8 L226.8,423.5 L227.8,423.1 L228.8,422.8 L229.8,422.4 L230.8,422.0 L231.8,421.7 L232.8,421.3 L233.8,420.9 L234.8,420.5 L235.8,420.2 L236.8,419.8 L237.8,419.4 L238.8,419.0 L239.8,418.5 L240.8,418.1 L241.8,417.7 L242.8,417.3 L243.8,416.8 L244.8,416.4 L245.8,415.9 L246.8,415.5 L247.8,415.0 L248.8,414.5 L249.8,414.1 L250.8,413.6 L251.8,413.1 L252.8,412.6 L253.8,412.1 L254.8,411.6 L255.8,411.1 L256.8,410.5 L257.8,410.0 L258.8,409.5 L259.8,408.9 L260.8,408.3 L261.8,407.8 L262.8,407.2 L263.8,406.6 L264.8,406.0 L265.8,405.4 L266.8,404.8 L267.8,404.2 L268.8,403.5 L269.8,402.9 L270.8,402.2 L271.8,401.6 L272.8,400.9 L273.8,400.2 L274.8,399.5 L275.8,398.8 L276.8,398.1 L277.8,397.4 L278.8,396.6 L279.8,395.9 L280.8,395.1 L281.8,394.3 L282.8,393.5 L283.8,392.7 L284.8,391.9 L285.8,391.0 L286.8,390.2 L287.8,389.3 L288.8,388.4 L289.8,387.5 L290.8,386.6 L291.8,385.6 L292.8,384.7 L293.8,383.7 L294.8,382.7 L295.8,381.7 L296.8,380.6 L297.8,379.6 L298.8,378.5 L299.8,377.4 L300.8,376.3 L301.8,375.1 L302.8,374.0 L303.8,372.8 L304.8,371.5 L305.8,370.3 L306.8,369.0 L307.8,367.7 L308.8,366.4 L309.8,365.0 L310.8,363.6 L311.8,362.2 L312.8,360.7 L313.8,359.2 L314.8,357.7 L315.8,356.1 L316.8,354.5 L317.8,352.9 L318.8,351.2 L319.8,349.5 L320.8,347.7 L321.8,345.9 L322.8,344.1 L323.8,342.2 L324.8,340.3 L325.8,338.3 L326.8,336.2 L327.8,334.1 L328.8,332.0 L329.8,329.8 L330.8,327.5 L331.8,325.2 L332.8,322.8 L333.8,320.3 L334.8,317.8 L335.8,315.2 L336.8,312.6 L337.8,309.9 L338.8,307.1 L339.8,304.2 L340.8,301.2 L341.8,298.2 L342.8,295.1 L343.8,291.9 L344.8,288.6 L345.8,285.2 L346.8,281.7 L347.8,278.1 L348.8,274.4 L349.8,270.6 L350.8,266.7 L351.8,262.7 L352.8,258.6 L353.8,254.3 L354.8,249.9 L355.8,245.5 L356.8,240.8 L357.8,236.1 L358.8,231.2 L359.8,226.2 L360.8,221.0 L361.8,215.8 L362.8,210.3 L363.8,204.7 L364.8,199.0 L365.8,193.1 L366.8,187.1 L367.8,180.9 L368.8,174.5 L369.8,168.0 L370.8,161.3 L371.8,154.5 L372.8,147.6" fill="none" stroke="#ff1010" stroke-width="3.6" stroke-linecap="round" stroke-dasharray="0 11"/><path d="M102.8,448.2 L103.8,448.2 L104.8,448.2 L105.8,448.1 L106.8,448.1 L107.8,448.0 L108.8,447.9 L109.8,447.8 L110.8,447.7 L111.8,447.6 L112.8,447.5 L113.8,447.4 L114.8,447.3 L115.8,447.2 L116.8,447.2 L117.8,447.1 L118.8,447.0 L119.8,446.9 L120.8,446.8 L121.8,446.7 L122.8,446.7 L123.8,446.6 L124.8,446.5 L125.8,446.5 L126.8,446.4 L127.8,446.4 L128.8,446.3 L129.8,446.3 L130.8,446.2 L131.8,446.2 L132.8,446.1 L133.8,446.1 L134.8,446.0 L135.8,446.0 L136.8,446.0 L137.8,445.9 L138.8,445.9 L139.8,445.8 L140.8,445.8 L141.8,445.8 L142.8,445.7 L143.8,445.7 L144.8,445.7 L145.8,445.6 L146.8,445.6 L147.8,445.5 L148.8,445.5 L149.8,445.5 L150.8,445.4 L151.8,445.4 L152.8,445.3 L153.8,445.3 L154.8,445.2 L155.8,445.2 L156.8,445.1 L157.8,445.1 L158.8,445.0 L159.8,445.0 L160.8,444.9 L161.8,444.8 L162.8,444.8 L163.8,444.7 L164.8,444.6 L165.8,444.6 L166.8,444.5 L167.8,444.4 L168.8,444.4 L169.8,444.3 L170.8,444.2 L171.8,444.1 L172.8,444.0 L173.8,443.9 L174.8,443.9 L175.8,443.8 L176.8,443.7 L177.8,443.6 L178.8,443.5 L179.8,443.4 L180.8,443.3 L181.8,443.2 L182.8,443.1 L183.8,443.0 L184.8,442.8 L185.8,442.7 L186.8,442.6 L187.8,442.5 L188.8,442.4 L189.8,442.2 L190.8,442.1 L191.8,442.0 L192.8,441.9 L193.8,441.7 L194.8,441.6 L195.8,441.4 L196.8,441.3 L197.8,441.2 L198.8,441.0 L199.8,440.9 L200.8,440.7 L201.8,440.5 L202.8,440.4 L203.8,440.2 L204.8,440.1 L205.8,439.9 L206.8,439.7 L207.8,439.5 L208.8,439.4 L209.8,439.2 L210.8,439.0 L211.8,438.8 L212.8,438.6 L213.8,438.4 L214.8,438.3 L215.8,438.1 L216.8,437.9 L217.8,437.7 L218.8,437.4 L219.8,437.2 L220.8,437.0 L221.8,436.8 L222.8,436.6 L223.8,436.4 L224.8,436.1 L225.8,435.9 L226.8,435.7 L227.8,435.5 L228.8,435.2 L229.8,435.0 L230.8,434.7 L231.8,434.5 L232.8,434.2 L233.8,434.0 L234.8,433.7 L235.8,433.4 L236.8,433.2 L237.8,432.9 L238.8,432.6 L239.8,432.4 L240.8,432.1 L241.8,431.8 L242.8,431.5 L243.8,431.2 L244.8,430.9 L245.8,430.6 L246.8,430.3 L247.8,430.0 L248.8,429.7 L249.8,429.4 L250.8,429.0 L251.8,428.7 L252.8,428.4 L253.8,428.0 L254.8,427.7 L255.8,427.3 L256.8,427.0 L257.8,426.6 L258.8,426.3 L259.8,425.9 L260.8,425.5 L261.8,425.1 L262.8,424.8 L263.8,424.4 L264.8,424.0 L265.8,423.6 L266.8,423.2 L267.8,422.7 L268.8,422.3 L269.8,421.9 L270.8,421.5 L271.8,421.0 L272.8,420.6 L273.8,420.1 L274.8,419.7 L275.8,419.2 L276.8,418.7 L277.8,418.2 L278.8,417.7 L279.8,417.2 L280.8,416.7 L281.8,416.2 L282.8,415.7 L283.8,415.1 L284.8,414.6 L285.8,414.0 L286.8,413.5 L287.8,412.9 L288.8,412.3 L289.8,411.7 L290.8,411.1 L291.8,410.5 L292.8,409.8 L293.8,409.2 L294.8,408.5 L295.8,407.9 L296.8,407.2 L297.8,406.5 L298.8,405.8 L299.8,405.1 L300.8,404.3 L301.8,403.6 L302.8,402.8 L303.8,402.0 L304.8,401.3 L305.8,400.4 L306.8,399.6 L307.8,398.8 L308.8,397.9 L309.8,397.0 L310.8,396.1 L311.8,395.2 L312.8,394.2 L313.8,393.3 L314.8,392.3 L315.8,391.3 L316.8,390.2 L317.8,389.2 L318.8,388.1 L319.8,387.0 L320.8,385.9 L321.8,384.7 L322.8,383.5 L323.8,382.3 L324.8,381.0 L325.8,379.8 L326.8,378.4 L327.8,377.1 L328.8,375.7 L329.8,374.3 L330.8,372.8 L331.8,371.4 L332.8,369.8 L333.8,368.3 L334.8,366.6 L335.8,365.0 L336.8,363.3 L337.8,361.5 L338.8,359.7 L339.8,357.9 L340.8,356.0 L341.8,354.0 L342.8,352.0 L343.8,350.0 L344.8,347.8 L345.8,345.6 L346.8,343.3 L347.8,341.0 L348.8,338.6 L349.8,336.1 L350.8,333.5 L351.8,330.9 L352.8,328.1 L353.8,325.3 L354.8,322.3 L355.8,319.3 L356.8,316.1 L357.8,312.9 L358.8,309.5 L359.8,305.9 L360.8,302.3 L361.8,298.4 L362.8,294.4 L363.8,290.3 L364.8,286.0 L365.8,281.4 L366.8,276.7 L367.8,271.7 L368.8,266.4 L369.8,260.9 L370.8,255.1 L371.8,249.0 L372.8,242.6" fill="none" stroke="#ff1010" stroke-width="3.6" stroke-linecap="round" stroke-dasharray="0 11"/><path d="M102.8,448.2 L103.8,447.7 L104.8,447.3 L105.8,446.9 L106.8,446.6 L107.8,446.3 L108.8,446.0 L109.8,445.7 L110.8,445.4 L111.8,445.2 L112.8,445.0 L113.8,444.7 L114.8,444.6 L115.8,444.4 L116.8,444.2 L117.8,444.1 L118.8,443.9 L119.8,443.8 L120.8,443.7 L121.8,443.6 L122.8,443.5 L123.8,443.4 L124.8,443.3 L125.8,443.2 L126.8,443.1 L127.8,443.1 L128.8,443.0 L129.8,442.9 L130.8,442.9 L131.8,442.8 L132.8,442.8 L133.8,442.7 L134.8,442.6 L135.8,442.6 L136.8,442.5 L137.8,442.5 L138.8,442.5 L139.8,442.4 L140.8,442.4 L141.8,442.3 L142.8,442.3 L143.8,442.2 L144.8,442.2 L145.8,442.1 L146.8,442.1 L147.8,442.0 L148.8,442.0 L149.8,441.9 L150.8,441.9 L151.8,441.8 L152.8,441.8 L153.8,441.7 L154.8,441.6 L155.8,441.6 L156.8,441.5 L157.8,441.5 L158.8,441.4 L159.8,441.3 L160.8,441.2 L161.8,441.2 L162.8,441.1 L163.8,441.0 L164.8,440.9 L165.8,440.8 L166.8,440.8 L167.8,440.7 L168.8,440.6 L169.8,440.5 L170.8,440.4 L171.8,440.3 L172.8,440.2 L173.8,440.1 L174.8,440.0 L175.8,439.9 L176.8,439.8 L177.8,439.6 L178.8,439.5 L179.8,439.4 L180.8,439.3 L181.8,439.1 L182.8,439.0 L183.8,438.9 L184.8,438.7 L185.8,438.6 L186.8,438.5 L187.8,438.3 L188.8,438.2 L189.8,438.0 L190.8,437.9 L191.8,437.7 L192.8,437.5 L193.8,437.4 L194.8,437.2 L195.8,437.0 L196.8,436.9 L197.8,436.7 L198.8,436.5 L199.8,436.3 L200.8,436.1 L201.8,435.9 L202.8,435.8 L203.8,435.6 L204.8,435.4 L205.8,435.1 L206.8,434.9 L207.8,434.7 L208.8,434.5 L209.8,434.3 L210.8,434.1 L211.8,433.8 L212.8,433.6 L213.8,433.4 L214.8,433.2 L215.8,432.9 L216.8,432.7 L217.8,432.4 L218.8,432.2 L219.8,431.9 L220.8,431.7 L221.8,431.4 L222.8,431.1 L223.8,430.9 L224.8,430.6 L225.8,430.3 L226.8,430.0 L227.8,429.7 L228.8,429.4 L229.8,429.1 L230.8,428.8 L231.8,428.5 L232.8,428.2 L233.8,427.9 L234.8,427.6 L235.8,427.3 L236.8,427.0 L237.8,426.6 L238.8,426.3 L239.8,425.9 L240.8,425.6 L241.8,425.2 L242.8,424.9 L243.8,424.5 L244.8,424.2 L245.8,423.8 L246.8,423.4 L247.8,423.0 L248.8,422.7 L249.8,422.3 L250.8,421.9 L251.8,421.5 L252.8,421.0 L253.8,420.6 L254.8,420.2 L255.8,419.8 L256.8,419.4 L257.8,418.9 L258.8,418.5 L259.8,418.0 L260.8,417.6 L261.8,417.1 L262.8,416.6 L263.8,416.1 L264.8,415.6 L265.8,415.1 L266.8,414.6 L267.8,414.1 L268.8,413.6 L269.8,413.1 L270.8,412.5 L271.8,412.0 L272.8,411.4 L273.8,410.9 L274.8,410.3 L275.8,409.7 L276.8,409.1 L277.8,408.5 L278.8,407.9 L279.8,407.3 L280.8,406.7 L281.8,406.0 L282.8,405.4 L283.8,404.7 L284.8,404.0 L285.8,403.3 L286.8,402.6 L287.8,401.9 L288.8,401.2 L289.8,400.5 L290.8,399.7 L291.8,398.9 L292.8,398.2 L293.8,397.4 L294.8,396.5 L295.8,395.7 L296.8,394.9 L297.8,394.0 L298.8,393.1 L299.8,392.2 L300.8,391.3 L301.8,390.4 L302.8,389.4 L303.8,388.5 L304.8,387.5 L305.8,386.4 L306.8,385.4 L307.8,384.3 L308.8,383.3 L309.8,382.2 L310.8,381.0 L311.8,379.9 L312.8,378.7 L313.8,377.5 L314.8,376.2 L315.8,375.0 L316.8,373.7 L317.8,372.3 L318.8,371.0 L319.8,369.6 L320.8,368.2 L321.8,366.7 L322.8,365.2 L323.8,363.7 L324.8,362.1 L325.8,360.5 L326.8,358.8 L327.8,357.2 L328.8,355.4 L329.8,353.6 L330.8,351.8 L331.8,349.9 L332.8,348.0 L333.8,346.0 L334.8,344.0 L335.8,341.9 L336.8,339.8 L337.8,337.6 L338.8,335.3 L339.8,333.0 L340.8,330.6 L341.8,328.1 L342.8,325.6 L343.8,323.0 L344.8,320.3 L345.8,317.6 L346.8,314.7 L347.8,311.8 L348.8,308.8 L349.8,305.7 L350.8,302.5 L351.8,299.2 L352.8,295.8 L353.8,292.3 L354.8,288.7 L355.8,285.0 L356.8,281.2 L357.8,277.2 L358.8,273.1 L359.8,268.9 L360.8,264.6 L361.8,260.1 L362.8,255.4 L363.8,250.6 L364.8,245.6 L365.8,240.4 L366.8,235.1 L367.8,229.5 L368.8,223.8 L369.8,217.8 L370.8,211.6 L371.8,205.2 L372.8,198.5" fill="none" stroke="#ff1010" stroke-width="5.5" stroke-linecap="butt" stroke-linejoin="round"/><g fill="#ff1010"><path d="M330.0,196.1 A1.9,1.9 0 0 1 330.0,199.9 Z"/><circle cx="341.0" cy="198.0" r="1.9"/><circle cx="352.0" cy="198.0" r="1.9"/><circle cx="363.0" cy="198.0" r="1.9"/><circle cx="374.0" cy="198.0" r="1.9"/><circle cx="385.0" cy="198.0" r="1.9"/><circle cx="396.0" cy="198.0" r="1.9"/><circle cx="407.0" cy="198.0" r="1.9"/><path d="M322.5,235.1 A1.9,1.9 0 0 1 322.5,238.9 Z"/><circle cx="333.5" cy="237.0" r="1.9"/><circle cx="344.5" cy="237.0" r="1.9"/><circle cx="355.5" cy="237.0" r="1.9"/><circle cx="366.5" cy="237.0" r="1.9"/><circle cx="377.5" cy="237.0" r="1.9"/><circle cx="388.5" cy="237.0" r="1.9"/><circle cx="399.5" cy="237.0" r="1.9"/><path d="M316.2,268.7 A1.9,1.9 0 0 1 316.2,272.5 Z"/><circle cx="327.2" cy="270.6" r="1.9"/><circle cx="338.2" cy="270.6" r="1.9"/><circle cx="349.2" cy="270.6" r="1.9"/><circle cx="360.2" cy="270.6" r="1.9"/><circle cx="371.2" cy="270.6" r="1.9"/><circle cx="382.2" cy="270.6" r="1.9"/><circle cx="393.2" cy="270.6" r="1.9"/><path d="M308.8,299.3 A1.9,1.9 0 0 1 308.8,303.1 Z"/><circle cx="319.8" cy="301.2" r="1.9"/><circle cx="330.8" cy="301.2" r="1.9"/><circle cx="341.8" cy="301.2" r="1.9"/><circle cx="352.8" cy="301.2" r="1.9"/><circle cx="363.8" cy="301.2" r="1.9"/><circle cx="374.8" cy="301.2" r="1.9"/><circle cx="385.8" cy="301.2" r="1.9"/><path d="M301.5,324.7 A1.9,1.9 0 0 1 301.5,328.5 Z"/><circle cx="312.5" cy="326.6" r="1.9"/><circle cx="323.5" cy="326.6" r="1.9"/><circle cx="334.5" cy="326.6" r="1.9"/><circle cx="345.5" cy="326.6" r="1.9"/><circle cx="356.5" cy="326.6" r="1.9"/><circle cx="367.5" cy="326.6" r="1.9"/><circle cx="378.5" cy="326.6" r="1.9"/><path d="M292.5,345.4 A1.9,1.9 0 0 1 292.5,349.2 Z"/><circle cx="303.5" cy="347.3" r="1.9"/><circle cx="314.5" cy="347.3" r="1.9"/><circle cx="325.5" cy="347.3" r="1.9"/><circle cx="336.5" cy="347.3" r="1.9"/><circle cx="347.5" cy="347.3" r="1.9"/><circle cx="358.5" cy="347.3" r="1.9"/><path d="M283.6,362.8 A1.9,1.9 0 0 1 283.6,366.6 Z"/><circle cx="294.6" cy="364.7" r="1.9"/><circle cx="305.6" cy="364.7" r="1.9"/><circle cx="316.6" cy="364.7" r="1.9"/><circle cx="327.6" cy="364.7" r="1.9"/><circle cx="338.6" cy="364.7" r="1.9"/><circle cx="349.6" cy="364.7" r="1.9"/><path d="M274.2,376.9 A1.9,1.9 0 0 1 274.2,380.7 Z"/><circle cx="285.2" cy="378.8" r="1.9"/><circle cx="296.2" cy="378.8" r="1.9"/><circle cx="307.2" cy="378.8" r="1.9"/><circle cx="318.2" cy="378.8" r="1.9"/><circle cx="329.2" cy="378.8" r="1.9"/><circle cx="340.2" cy="378.8" r="1.9"/><path d="M264.2,389.3 A1.9,1.9 0 0 1 264.2,393.1 Z"/><circle cx="275.2" cy="391.2" r="1.9"/><circle cx="286.2" cy="391.2" r="1.9"/><circle cx="297.2" cy="391.2" r="1.9"/><circle cx="308.2" cy="391.2" r="1.9"/><circle cx="319.2" cy="391.2" r="1.9"/><circle cx="330.2" cy="391.2" r="1.9"/><path d="M255.1,399.2 A1.9,1.9 0 0 1 255.1,403.0 Z"/><circle cx="266.1" cy="401.1" r="1.9"/><circle cx="277.1" cy="401.1" r="1.9"/><circle cx="288.1" cy="401.1" r="1.9"/><circle cx="299.1" cy="401.1" r="1.9"/><circle cx="310.1" cy="401.1" r="1.9"/><circle cx="321.1" cy="401.1" r="1.9"/><path d="M245.0,406.8 A1.9,1.9 0 0 1 245.0,410.6 Z"/><circle cx="256.0" cy="408.7" r="1.9"/><circle cx="267.0" cy="408.7" r="1.9"/><circle cx="278.0" cy="408.7" r="1.9"/><circle cx="289.0" cy="408.7" r="1.9"/><path d="M234.9,413.8 A1.9,1.9 0 0 1 234.9,417.6 Z"/><circle cx="245.9" cy="415.7" r="1.9"/><circle cx="256.9" cy="415.7" r="1.9"/><circle cx="267.9" cy="415.7" r="1.9"/><circle cx="278.9" cy="415.7" r="1.9"/><circle cx="289.9" cy="415.7" r="1.9"/><path d="M224.3,419.1 A1.9,1.9 0 0 1 224.3,422.9 Z"/><circle cx="235.3" cy="421.0" r="1.9"/><circle cx="246.3" cy="421.0" r="1.9"/><circle cx="257.3" cy="421.0" r="1.9"/><circle cx="268.3" cy="421.0" r="1.9"/><circle cx="279.3" cy="421.0" r="1.9"/><path d="M213.8,423.1 A1.9,1.9 0 0 1 213.8,426.9 Z"/><circle cx="224.8" cy="425.0" r="1.9"/><circle cx="235.8" cy="425.0" r="1.9"/><circle cx="246.8" cy="425.0" r="1.9"/><circle cx="257.8" cy="425.0" r="1.9"/><circle cx="268.8" cy="425.0" r="1.9"/><path d="M202.7,426.3 A1.9,1.9 0 0 1 202.7,430.1 Z"/><circle cx="213.7" cy="428.2" r="1.9"/><circle cx="224.7" cy="428.2" r="1.9"/><circle cx="235.7" cy="428.2" r="1.9"/><circle cx="246.7" cy="428.2" r="1.9"/><circle cx="257.7" cy="428.2" r="1.9"/><path d="M191.6,429.6 A1.9,1.9 0 0 1 191.6,433.4 Z"/><circle cx="202.6" cy="431.5" r="1.9"/><circle cx="213.6" cy="431.5" r="1.9"/><circle cx="224.6" cy="431.5" r="1.9"/><circle cx="235.6" cy="431.5" r="1.9"/><circle cx="246.6" cy="431.5" r="1.9"/><path d="M180.4,432.1 A1.9,1.9 0 0 1 180.4,435.9 Z"/><circle cx="191.4" cy="434.0" r="1.9"/><circle cx="202.4" cy="434.0" r="1.9"/><circle cx="213.4" cy="434.0" r="1.9"/><circle cx="224.4" cy="434.0" r="1.9"/><circle cx="235.4" cy="434.0" r="1.9"/><path d="M169.3,434.6 A1.9,1.9 0 0 1 169.3,438.4 Z"/><circle cx="180.3" cy="436.5" r="1.9"/><circle cx="191.3" cy="436.5" r="1.9"/><circle cx="202.3" cy="436.5" r="1.9"/><circle cx="213.3" cy="436.5" r="1.9"/><circle cx="224.3" cy="436.5" r="1.9"/><path d="M158.7,436.6 A1.9,1.9 0 0 1 158.7,440.4 Z"/><circle cx="169.7" cy="438.5" r="1.9"/><circle cx="180.7" cy="438.5" r="1.9"/><circle cx="191.7" cy="438.5" r="1.9"/><circle cx="202.7" cy="438.5" r="1.9"/><circle cx="213.7" cy="438.5" r="1.9"/></g></g><g clip-path="url(#cpB)"><path d="M822.6,448.2 L823.6,447.5 L824.6,446.9 L825.6,446.4 L826.6,446.0 L827.6,445.6 L828.6,445.2 L829.6,444.9 L830.6,444.7 L831.6,444.4 L832.6,444.2 L833.6,444.0 L834.6,443.8 L835.6,443.6 L836.6,443.4 L837.6,443.3 L838.6,443.1 L839.6,443.0 L840.6,442.8 L841.6,442.7 L842.6,442.5 L843.6,442.4 L844.6,442.3 L845.6,442.2 L846.6,442.0 L847.6,441.9 L848.6,441.8 L849.6,441.7 L850.6,441.5 L851.6,441.4 L852.6,441.3 L853.6,441.2 L854.6,441.1 L855.6,441.0 L856.6,440.9 L857.6,440.7 L858.6,440.6 L859.6,440.5 L860.6,440.4 L861.6,440.3 L862.6,440.2 L863.6,440.1 L864.6,440.0 L865.6,439.8 L866.6,439.7 L867.6,439.6 L868.6,439.5 L869.6,439.4 L870.6,439.3 L871.6,439.2 L872.6,439.1 L873.6,439.0 L874.6,438.9 L875.6,438.7 L876.6,438.6 L877.6,438.5 L878.6,438.4 L879.6,438.3 L880.6,438.2 L881.6,438.1 L882.6,438.0 L883.6,437.9 L884.6,437.8 L885.6,437.6 L886.6,437.5 L887.6,437.4 L888.6,437.3 L889.6,437.2 L890.6,437.1 L891.6,437.0 L892.6,436.8 L893.6,436.7 L894.6,436.6 L895.6,436.5 L896.6,436.4 L897.6,436.2 L898.6,436.1 L899.6,436.0 L900.6,435.9 L901.6,435.8 L902.6,435.6 L903.6,435.5 L904.6,435.4 L905.6,435.2 L906.6,435.1 L907.6,435.0 L908.6,434.8 L909.6,434.7 L910.6,434.6 L911.6,434.4 L912.6,434.3 L913.6,434.2 L914.6,434.0 L915.6,433.9 L916.6,433.7 L917.6,433.6 L918.6,433.4 L919.6,433.3 L920.6,433.1 L921.6,432.9 L922.6,432.8 L923.6,432.6 L924.6,432.5 L925.6,432.3 L926.6,432.1 L927.6,431.9 L928.6,431.8 L929.6,431.6 L930.6,431.4 L931.6,431.2 L932.6,431.0 L933.6,430.8 L934.6,430.6 L935.6,430.4 L936.6,430.2 L937.6,430.0 L938.6,429.8 L939.6,429.6 L940.6,429.4 L941.6,429.2 L942.6,429.0 L943.6,428.7 L944.6,428.5 L945.6,428.3 L946.6,428.0 L947.6,427.8 L948.6,427.5 L949.6,427.3 L950.6,427.0 L951.6,426.7 L952.6,426.5 L953.6,426.2 L954.6,425.9 L955.6,425.6 L956.6,425.3 L957.6,425.1 L958.6,424.7 L959.6,424.4 L960.6,424.1 L961.6,423.8 L962.6,423.5 L963.6,423.1 L964.6,422.8 L965.6,422.5 L966.6,422.1 L967.6,421.8 L968.6,421.4 L969.6,421.0 L970.6,420.6 L971.6,420.2 L972.6,419.8 L973.6,419.4 L974.6,419.0 L975.6,418.6 L976.6,418.2 L977.6,417.7 L978.6,417.3 L979.6,416.8 L980.6,416.4 L981.6,415.9 L982.6,415.4 L983.6,414.9 L984.6,414.4 L985.6,413.9 L986.6,413.4 L987.6,412.9 L988.6,412.3 L989.6,411.8 L990.6,411.2 L991.6,410.6 L992.6,410.0 L993.6,409.4 L994.6,408.8 L995.6,408.2 L996.6,407.5 L997.6,406.9 L998.6,406.2 L999.6,405.6 L1000.6,404.9 L1001.6,404.2 L1002.6,403.4 L1003.6,402.7 L1004.6,402.0 L1005.6,401.2 L1006.6,400.4 L1007.6,399.6 L1008.6,398.8 L1009.6,398.0 L1010.6,397.2 L1011.6,396.3 L1012.6,395.4 L1013.6,394.5 L1014.6,393.6 L1015.6,392.7 L1016.6,391.7 L1017.6,390.8 L1018.6,389.8 L1019.6,388.8 L1020.6,387.8 L1021.6,386.7 L1022.6,385.6 L1023.6,384.6 L1024.6,383.5 L1025.6,382.3 L1026.6,381.2 L1027.6,380.0 L1028.6,378.8 L1029.6,377.6 L1030.6,376.3 L1031.6,375.0 L1032.6,373.7 L1033.6,372.4 L1034.6,371.1 L1035.6,369.7 L1036.6,368.3 L1037.6,366.9 L1038.6,365.4 L1039.6,363.9 L1040.6,362.4 L1041.6,360.8 L1042.6,359.3 L1043.6,357.6 L1044.6,356.0 L1045.6,354.3 L1046.6,352.6 L1047.6,350.9 L1048.6,349.1 L1049.6,347.3 L1050.6,345.4 L1051.6,343.6 L1052.6,341.6 L1053.6,339.7 L1054.6,337.7 L1055.6,335.7 L1056.6,333.6 L1057.6,331.5 L1058.6,329.3 L1059.6,327.1 L1060.6,324.9 L1061.6,322.6 L1062.6,320.3 L1063.6,318.0 L1064.6,315.6 L1065.6,313.1 L1066.6,310.7 L1067.6,308.1 L1068.6,305.6 L1069.6,303.0 L1070.6,300.3 L1071.6,297.6 L1072.6,294.9 L1073.6,292.1 L1074.6,289.3 L1075.6,286.5 L1076.6,283.6 L1077.6,280.7 L1078.6,277.8 L1079.6,274.8 L1080.6,271.8 L1081.6,268.8 L1082.6,265.8 L1083.6,262.8 L1084.6,259.8 L1085.6,256.8 L1086.6,253.8 L1087.6,250.9 L1088.6,248.0 L1089.6,245.2 L1090.6,242.5 L1091.6,239.9 L1092.6,237.4 L1093.6,235.0 L1093.6,306.5 L1092.6,309.7 L1091.6,312.7 L1090.6,315.5 L1089.6,318.2 L1088.6,320.8 L1087.6,323.3 L1086.6,325.7 L1085.6,328.0 L1084.6,330.3 L1083.6,332.4 L1082.6,334.5 L1081.6,336.5 L1080.6,338.5 L1079.6,340.4 L1078.6,342.3 L1077.6,344.1 L1076.6,345.9 L1075.6,347.6 L1074.6,349.3 L1073.6,351.0 L1072.6,352.7 L1071.6,354.3 L1070.6,355.8 L1069.6,357.4 L1068.6,358.9 L1067.6,360.4 L1066.6,361.9 L1065.6,363.3 L1064.6,364.7 L1063.6,366.1 L1062.6,367.5 L1061.6,368.8 L1060.6,370.2 L1059.6,371.5 L1058.6,372.8 L1057.6,374.0 L1056.6,375.3 L1055.6,376.5 L1054.6,377.7 L1053.6,378.9 L1052.6,380.1 L1051.6,381.2 L1050.6,382.4 L1049.6,383.5 L1048.6,384.6 L1047.6,385.7 L1046.6,386.8 L1045.6,387.8 L1044.6,388.8 L1043.6,389.9 L1042.6,390.9 L1041.6,391.8 L1040.6,392.8 L1039.6,393.8 L1038.6,394.7 L1037.6,395.6 L1036.6,396.5 L1035.6,397.4 L1034.6,398.3 L1033.6,399.2 L1032.6,400.0 L1031.6,400.9 L1030.6,401.7 L1029.6,402.5 L1028.6,403.3 L1027.6,404.1 L1026.6,404.9 L1025.6,405.6 L1024.6,406.4 L1023.6,407.1 L1022.6,407.8 L1021.6,408.5 L1020.6,409.2 L1019.6,409.9 L1018.6,410.6 L1017.6,411.3 L1016.6,411.9 L1015.6,412.6 L1014.6,413.2 L1013.6,413.8 L1012.6,414.4 L1011.6,415.0 L1010.6,415.6 L1009.6,416.2 L1008.6,416.8 L1007.6,417.3 L1006.6,417.9 L1005.6,418.4 L1004.6,418.9 L1003.6,419.4 L1002.6,420.0 L1001.6,420.5 L1000.6,420.9 L999.6,421.4 L998.6,421.9 L997.6,422.4 L996.6,422.8 L995.6,423.3 L994.6,423.7 L993.6,424.2 L992.6,424.6 L991.6,425.0 L990.6,425.4 L989.6,425.8 L988.6,426.2 L987.6,426.6 L986.6,427.0 L985.6,427.4 L984.6,427.7 L983.6,428.1 L982.6,428.4 L981.6,428.8 L980.6,429.1 L979.6,429.5 L978.6,429.8 L977.6,430.1 L976.6,430.4 L975.6,430.7 L974.6,431.1 L973.6,431.4 L972.6,431.6 L971.6,431.9 L970.6,432.2 L969.6,432.5 L968.6,432.8 L967.6,433.0 L966.6,433.3 L965.6,433.6 L964.6,433.8 L963.6,434.1 L962.6,434.3 L961.6,434.5 L960.6,434.8 L959.6,435.0 L958.6,435.2 L957.6,435.5 L956.6,435.7 L955.6,435.9 L954.6,436.1 L953.6,436.3 L952.6,436.5 L951.6,436.7 L950.6,436.9 L949.6,437.1 L948.6,437.3 L947.6,437.5 L946.6,437.7 L945.6,437.9 L944.6,438.0 L943.6,438.2 L942.6,438.4 L941.6,438.5 L940.6,438.7 L939.6,438.9 L938.6,439.0 L937.6,439.2 L936.6,439.3 L935.6,439.5 L934.6,439.6 L933.6,439.8 L932.6,439.9 L931.6,440.1 L930.6,440.2 L929.6,440.3 L928.6,440.5 L927.6,440.6 L926.6,440.7 L925.6,440.9 L924.6,441.0 L923.6,441.1 L922.6,441.2 L921.6,441.4 L920.6,441.5 L919.6,441.6 L918.6,441.7 L917.6,441.8 L916.6,442.0 L915.6,442.1 L914.6,442.2 L913.6,442.3 L912.6,442.4 L911.6,442.5 L910.6,442.6 L909.6,442.7 L908.6,442.8 L907.6,442.9 L906.6,443.0 L905.6,443.1 L904.6,443.2 L903.6,443.3 L902.6,443.4 L901.6,443.5 L900.6,443.6 L899.6,443.7 L898.6,443.8 L897.6,443.9 L896.6,444.0 L895.6,444.1 L894.6,444.2 L893.6,444.2 L892.6,444.3 L891.6,444.4 L890.6,444.5 L889.6,444.6 L888.6,444.7 L887.6,444.8 L886.6,444.9 L885.6,444.9 L884.6,445.0 L883.6,445.1 L882.6,445.2 L881.6,445.3 L880.6,445.4 L879.6,445.5 L878.6,445.5 L877.6,445.6 L876.6,445.7 L875.6,445.8 L874.6,445.9 L873.6,446.0 L872.6,446.0 L871.6,446.1 L870.6,446.2 L869.6,446.3 L868.6,446.4 L867.6,446.5 L866.6,446.6 L865.6,446.6 L864.6,446.7 L863.6,446.8 L862.6,446.9 L861.6,447.0 L860.6,447.1 L859.6,447.2 L858.6,447.2 L857.6,447.3 L856.6,447.4 L855.6,447.5 L854.6,447.6 L853.6,447.7 L852.6,447.8 L851.6,447.8 L850.6,447.9 L849.6,448.0 L848.6,448.1 L847.6,448.2 L846.6,448.3 L845.6,448.4 L844.6,448.5 L843.6,448.5 L842.6,448.6 L841.6,448.7 L840.6,448.8 L839.6,448.9 L838.6,448.9 L837.6,449.0 L836.6,449.1 L835.6,449.2 L834.6,449.2 L833.6,449.3 L832.6,449.3 L831.6,449.3 L830.6,449.3 L829.6,449.3 L828.6,449.3 L827.6,449.2 L826.6,449.1 L825.6,449.0 L824.6,448.8 L823.6,448.5 L822.6,448.2 Z" fill="#4040ff"/><path d="M822.6,448.2 L823.6,447.5 L824.6,446.9 L825.6,446.4 L826.6,446.0 L827.6,445.6 L828.6,445.2 L829.6,444.9 L830.6,444.7 L831.6,444.4 L832.6,444.2 L833.6,444.0 L834.6,443.8 L835.6,443.6 L836.6,443.4 L837.6,443.3 L838.6,443.1 L839.6,443.0 L840.6,442.8 L841.6,442.7 L842.6,442.5 L843.6,442.4 L844.6,442.3 L845.6,442.2 L846.6,442.0 L847.6,441.9 L848.6,441.8 L849.6,441.7 L850.6,441.5 L851.6,441.4 L852.6,441.3 L853.6,441.2 L854.6,441.1 L855.6,441.0 L856.6,440.9 L857.6,440.7 L858.6,440.6 L859.6,440.5 L860.6,440.4 L861.6,440.3 L862.6,440.2 L863.6,440.1 L864.6,440.0 L865.6,439.8 L866.6,439.7 L867.6,439.6 L868.6,439.5 L869.6,439.4 L870.6,439.3 L871.6,439.2 L872.6,439.1 L873.6,439.0 L874.6,438.9 L875.6,438.7 L876.6,438.6 L877.6,438.5 L878.6,438.4 L879.6,438.3 L880.6,438.2 L881.6,438.1 L882.6,438.0 L883.6,437.9 L884.6,437.8 L885.6,437.6 L886.6,437.5 L887.6,437.4 L888.6,437.3 L889.6,437.2 L890.6,437.1 L891.6,437.0 L892.6,436.8 L893.6,436.7 L894.6,436.6 L895.6,436.5 L896.6,436.4 L897.6,436.2 L898.6,436.1 L899.6,436.0 L900.6,435.9 L901.6,435.8 L902.6,435.6 L903.6,435.5 L904.6,435.4 L905.6,435.2 L906.6,435.1 L907.6,435.0 L908.6,434.8 L909.6,434.7 L910.6,434.6 L911.6,434.4 L912.6,434.3 L913.6,434.2 L914.6,434.0 L915.6,433.9 L916.6,433.7 L917.6,433.6 L918.6,433.4 L919.6,433.3 L920.6,433.1 L921.6,432.9 L922.6,432.8 L923.6,432.6 L924.6,432.5 L925.6,432.3 L926.6,432.1 L927.6,431.9 L928.6,431.8 L929.6,431.6 L930.6,431.4 L931.6,431.2 L932.6,431.0 L933.6,430.8 L934.6,430.6 L935.6,430.4 L936.6,430.2 L937.6,430.0 L938.6,429.8 L939.6,429.6 L940.6,429.4 L941.6,429.2 L942.6,429.0 L943.6,428.7 L944.6,428.5 L945.6,428.3 L946.6,428.0 L947.6,427.8 L948.6,427.5 L949.6,427.3 L950.6,427.0 L951.6,426.7 L952.6,426.5 L953.6,426.2 L954.6,425.9 L955.6,425.6 L956.6,425.3 L957.6,425.1 L958.6,424.7 L959.6,424.4 L960.6,424.1 L961.6,423.8 L962.6,423.5 L963.6,423.1 L964.6,422.8 L965.6,422.5 L966.6,422.1 L967.6,421.8 L968.6,421.4 L969.6,421.0 L970.6,420.6 L971.6,420.2 L972.6,419.8 L973.6,419.4 L974.6,419.0 L975.6,418.6 L976.6,418.2 L977.6,417.7 L978.6,417.3 L979.6,416.8 L980.6,416.4 L981.6,415.9 L982.6,415.4 L983.6,414.9 L984.6,414.4 L985.6,413.9 L986.6,413.4 L987.6,412.9 L988.6,412.3 L989.6,411.8 L990.6,411.2 L991.6,410.6 L992.6,410.0 L993.6,409.4 L994.6,408.8 L995.6,408.2 L996.6,407.5 L997.6,406.9 L998.6,406.2 L999.6,405.6 L1000.6,404.9 L1001.6,404.2 L1002.6,403.4 L1003.6,402.7 L1004.6,402.0 L1005.6,401.2 L1006.6,400.4 L1007.6,399.6 L1008.6,398.8 L1009.6,398.0 L1010.6,397.2 L1011.6,396.3 L1012.6,395.4 L1013.6,394.5 L1014.6,393.6 L1015.6,392.7 L1016.6,391.7 L1017.6,390.8 L1018.6,389.8 L1019.6,388.8 L1020.6,387.8 L1021.6,386.7 L1022.6,385.6 L1023.6,384.6 L1024.6,383.5 L1025.6,382.3 L1026.6,381.2 L1027.6,380.0 L1028.6,378.8 L1029.6,377.6 L1030.6,376.3 L1031.6,375.0 L1032.6,373.7 L1033.6,372.4 L1034.6,371.1 L1035.6,369.7 L1036.6,368.3 L1037.6,366.9 L1038.6,365.4 L1039.6,363.9 L1040.6,362.4 L1041.6,360.8 L1042.6,359.3 L1043.6,357.6 L1044.6,356.0 L1045.6,354.3 L1046.6,352.6 L1047.6,350.9 L1048.6,349.1 L1049.6,347.3 L1050.6,345.4 L1051.6,343.6 L1052.6,341.6 L1053.6,339.7 L1054.6,337.7 L1055.6,335.7 L1056.6,333.6 L1057.6,331.5 L1058.6,329.3 L1059.6,327.1 L1060.6,324.9 L1061.6,322.6 L1062.6,320.3 L1063.6,318.0 L1064.6,315.6 L1065.6,313.1 L1066.6,310.7 L1067.6,308.1 L1068.6,305.6 L1069.6,303.0 L1070.6,300.3 L1071.6,297.6 L1072.6,294.9 L1073.6,292.1 L1074.6,289.3 L1075.6,286.5 L1076.6,283.6 L1077.6,280.7 L1078.6,277.8 L1079.6,274.8 L1080.6,271.8 L1081.6,268.8 L1082.6,265.8 L1083.6,262.8 L1084.6,259.8 L1085.6,256.8 L1086.6,253.8 L1087.6,250.9 L1088.6,248.0 L1089.6,245.2 L1090.6,242.5 L1091.6,239.9 L1092.6,237.4 L1093.6,235.0" fill="none" stroke="#1010ff" stroke-width="3.6" stroke-linecap="round" stroke-dasharray="0 11"/><path d="M822.6,448.2 L823.6,448.5 L824.6,448.8 L825.6,449.0 L826.6,449.1 L827.6,449.2 L828.6,449.3 L829.6,449.3 L830.6,449.3 L831.6,449.3 L832.6,449.3 L833.6,449.3 L834.6,449.2 L835.6,449.2 L836.6,449.1 L837.6,449.0 L838.6,448.9 L839.6,448.9 L840.6,448.8 L841.6,448.7 L842.6,448.6 L843.6,448.5 L844.6,448.5 L845.6,448.4 L846.6,448.3 L847.6,448.2 L848.6,448.1 L849.6,448.0 L850.6,447.9 L851.6,447.8 L852.6,447.8 L853.6,447.7 L854.6,447.6 L855.6,447.5 L856.6,447.4 L857.6,447.3 L858.6,447.2 L859.6,447.2 L860.6,447.1 L861.6,447.0 L862.6,446.9 L863.6,446.8 L864.6,446.7 L865.6,446.6 L866.6,446.6 L867.6,446.5 L868.6,446.4 L869.6,446.3 L870.6,446.2 L871.6,446.1 L872.6,446.0 L873.6,446.0 L874.6,445.9 L875.6,445.8 L876.6,445.7 L877.6,445.6 L878.6,445.5 L879.6,445.5 L880.6,445.4 L881.6,445.3 L882.6,445.2 L883.6,445.1 L884.6,445.0 L885.6,444.9 L886.6,444.9 L887.6,444.8 L888.6,444.7 L889.6,444.6 L890.6,444.5 L891.6,444.4 L892.6,444.3 L893.6,444.2 L894.6,444.2 L895.6,444.1 L896.6,444.0 L897.6,443.9 L898.6,443.8 L899.6,443.7 L900.6,443.6 L901.6,443.5 L902.6,443.4 L903.6,443.3 L904.6,443.2 L905.6,443.1 L906.6,443.0 L907.6,442.9 L908.6,442.8 L909.6,442.7 L910.6,442.6 L911.6,442.5 L912.6,442.4 L913.6,442.3 L914.6,442.2 L915.6,442.1 L916.6,442.0 L917.6,441.8 L918.6,441.7 L919.6,441.6 L920.6,441.5 L921.6,441.4 L922.6,441.2 L923.6,441.1 L924.6,441.0 L925.6,440.9 L926.6,440.7 L927.6,440.6 L928.6,440.5 L929.6,440.3 L930.6,440.2 L931.6,440.1 L932.6,439.9 L933.6,439.8 L934.6,439.6 L935.6,439.5 L936.6,439.3 L937.6,439.2 L938.6,439.0 L939.6,438.9 L940.6,438.7 L941.6,438.5 L942.6,438.4 L943.6,438.2 L944.6,438.0 L945.6,437.9 L946.6,437.7 L947.6,437.5 L948.6,437.3 L949.6,437.1 L950.6,436.9 L951.6,436.7 L952.6,436.5 L953.6,436.3 L954.6,436.1 L955.6,435.9 L956.6,435.7 L957.6,435.5 L958.6,435.2 L959.6,435.0 L960.6,434.8 L961.6,434.5 L962.6,434.3 L963.6,434.1 L964.6,433.8 L965.6,433.6 L966.6,433.3 L967.6,433.0 L968.6,432.8 L969.6,432.5 L970.6,432.2 L971.6,431.9 L972.6,431.6 L973.6,431.4 L974.6,431.1 L975.6,430.7 L976.6,430.4 L977.6,430.1 L978.6,429.8 L979.6,429.5 L980.6,429.1 L981.6,428.8 L982.6,428.4 L983.6,428.1 L984.6,427.7 L985.6,427.4 L986.6,427.0 L987.6,426.6 L988.6,426.2 L989.6,425.8 L990.6,425.4 L991.6,425.0 L992.6,424.6 L993.6,424.2 L994.6,423.7 L995.6,423.3 L996.6,422.8 L997.6,422.4 L998.6,421.9 L999.6,421.4 L1000.6,420.9 L1001.6,420.5 L1002.6,420.0 L1003.6,419.4 L1004.6,418.9 L1005.6,418.4 L1006.6,417.9 L1007.6,417.3 L1008.6,416.8 L1009.6,416.2 L1010.6,415.6 L1011.6,415.0 L1012.6,414.4 L1013.6,413.8 L1014.6,413.2 L1015.6,412.6 L1016.6,411.9 L1017.6,411.3 L1018.6,410.6 L1019.6,409.9 L1020.6,409.2 L1021.6,408.5 L1022.6,407.8 L1023.6,407.1 L1024.6,406.4 L1025.6,405.6 L1026.6,404.9 L1027.6,404.1 L1028.6,403.3 L1029.6,402.5 L1030.6,401.7 L1031.6,400.9 L1032.6,400.0 L1033.6,399.2 L1034.6,398.3 L1035.6,397.4 L1036.6,396.5 L1037.6,395.6 L1038.6,394.7 L1039.6,393.8 L1040.6,392.8 L1041.6,391.8 L1042.6,390.9 L1043.6,389.9 L1044.6,388.8 L1045.6,387.8 L1046.6,386.8 L1047.6,385.7 L1048.6,384.6 L1049.6,383.5 L1050.6,382.4 L1051.6,381.2 L1052.6,380.1 L1053.6,378.9 L1054.6,377.7 L1055.6,376.5 L1056.6,375.3 L1057.6,374.0 L1058.6,372.8 L1059.6,371.5 L1060.6,370.2 L1061.6,368.8 L1062.6,367.5 L1063.6,366.1 L1064.6,364.7 L1065.6,363.3 L1066.6,361.9 L1067.6,360.4 L1068.6,358.9 L1069.6,357.4 L1070.6,355.8 L1071.6,354.3 L1072.6,352.7 L1073.6,351.0 L1074.6,349.3 L1075.6,347.6 L1076.6,345.9 L1077.6,344.1 L1078.6,342.3 L1079.6,340.4 L1080.6,338.5 L1081.6,336.5 L1082.6,334.5 L1083.6,332.4 L1084.6,330.3 L1085.6,328.0 L1086.6,325.7 L1087.6,323.3 L1088.6,320.8 L1089.6,318.2 L1090.6,315.5 L1091.6,312.7 L1092.6,309.7 L1093.6,306.5" fill="none" stroke="#1010ff" stroke-width="3.6" stroke-linecap="round" stroke-dasharray="0 11"/><path d="M822.6,448.2 L823.6,448.1 L824.6,448.0 L825.6,447.8 L826.6,447.7 L827.6,447.6 L828.6,447.5 L829.6,447.4 L830.6,447.3 L831.6,447.1 L832.6,447.0 L833.6,446.9 L834.6,446.8 L835.6,446.7 L836.6,446.6 L837.6,446.5 L838.6,446.4 L839.6,446.2 L840.6,446.1 L841.6,446.0 L842.6,445.9 L843.6,445.8 L844.6,445.7 L845.6,445.6 L846.6,445.5 L847.6,445.4 L848.6,445.3 L849.6,445.2 L850.6,445.1 L851.6,445.0 L852.6,444.9 L853.6,444.8 L854.6,444.7 L855.6,444.6 L856.6,444.5 L857.6,444.4 L858.6,444.3 L859.6,444.2 L860.6,444.1 L861.6,444.0 L862.6,443.9 L863.6,443.8 L864.6,443.7 L865.6,443.6 L866.6,443.5 L867.6,443.4 L868.6,443.3 L869.6,443.2 L870.6,443.1 L871.6,443.0 L872.6,443.0 L873.6,442.9 L874.6,442.8 L875.6,442.7 L876.6,442.6 L877.6,442.5 L878.6,442.4 L879.6,442.3 L880.6,442.2 L881.6,442.1 L882.6,442.0 L883.6,441.9 L884.6,441.8 L885.6,441.7 L886.6,441.6 L887.6,441.5 L888.6,441.4 L889.6,441.3 L890.6,441.2 L891.6,441.1 L892.6,441.0 L893.6,440.9 L894.6,440.8 L895.6,440.7 L896.6,440.6 L897.6,440.5 L898.6,440.4 L899.6,440.3 L900.6,440.2 L901.6,440.1 L902.6,440.0 L903.6,439.8 L904.6,439.7 L905.6,439.6 L906.6,439.5 L907.6,439.4 L908.6,439.3 L909.6,439.2 L910.6,439.0 L911.6,438.9 L912.6,438.8 L913.6,438.7 L914.6,438.5 L915.6,438.4 L916.6,438.3 L917.6,438.2 L918.6,438.0 L919.6,437.9 L920.6,437.8 L921.6,437.6 L922.6,437.5 L923.6,437.3 L924.6,437.2 L925.6,437.1 L926.6,436.9 L927.6,436.8 L928.6,436.6 L929.6,436.5 L930.6,436.3 L931.6,436.1 L932.6,436.0 L933.6,435.8 L934.6,435.6 L935.6,435.5 L936.6,435.3 L937.6,435.1 L938.6,434.9 L939.6,434.8 L940.6,434.6 L941.6,434.4 L942.6,434.2 L943.6,434.0 L944.6,433.8 L945.6,433.6 L946.6,433.4 L947.6,433.2 L948.6,433.0 L949.6,432.7 L950.6,432.5 L951.6,432.3 L952.6,432.1 L953.6,431.8 L954.6,431.6 L955.6,431.3 L956.6,431.1 L957.6,430.8 L958.6,430.6 L959.6,430.3 L960.6,430.0 L961.6,429.8 L962.6,429.5 L963.6,429.2 L964.6,428.9 L965.6,428.6 L966.6,428.3 L967.6,428.0 L968.6,427.7 L969.6,427.4 L970.6,427.1 L971.6,426.7 L972.6,426.4 L973.6,426.1 L974.6,425.7 L975.6,425.4 L976.6,425.0 L977.6,424.6 L978.6,424.2 L979.6,423.9 L980.6,423.5 L981.6,423.1 L982.6,422.7 L983.6,422.2 L984.6,421.8 L985.6,421.4 L986.6,420.9 L987.6,420.5 L988.6,420.0 L989.6,419.6 L990.6,419.1 L991.6,418.6 L992.6,418.1 L993.6,417.6 L994.6,417.1 L995.6,416.6 L996.6,416.0 L997.6,415.5 L998.6,414.9 L999.6,414.4 L1000.6,413.8 L1001.6,413.2 L1002.6,412.6 L1003.6,412.0 L1004.6,411.4 L1005.6,410.8 L1006.6,410.1 L1007.6,409.5 L1008.6,408.8 L1009.6,408.1 L1010.6,407.4 L1011.6,406.7 L1012.6,406.0 L1013.6,405.2 L1014.6,404.5 L1015.6,403.7 L1016.6,403.0 L1017.6,402.2 L1018.6,401.4 L1019.6,400.5 L1020.6,399.7 L1021.6,398.8 L1022.6,398.0 L1023.6,397.1 L1024.6,396.2 L1025.6,395.3 L1026.6,394.3 L1027.6,393.4 L1028.6,392.4 L1029.6,391.4 L1030.6,390.4 L1031.6,389.4 L1032.6,388.4 L1033.6,387.3 L1034.6,386.2 L1035.6,385.1 L1036.6,384.0 L1037.6,382.8 L1038.6,381.7 L1039.6,380.5 L1040.6,379.3 L1041.6,378.1 L1042.6,376.8 L1043.6,375.5 L1044.6,374.2 L1045.6,372.9 L1046.6,371.6 L1047.6,370.2 L1048.6,368.8 L1049.6,367.4 L1050.6,365.9 L1051.6,364.5 L1052.6,363.0 L1053.6,361.5 L1054.6,359.9 L1055.6,358.3 L1056.6,356.7 L1057.6,355.1 L1058.6,353.4 L1059.6,351.7 L1060.6,350.0 L1061.6,348.2 L1062.6,346.4 L1063.6,344.6 L1064.6,342.8 L1065.6,340.9 L1066.6,339.0 L1067.6,337.0 L1068.6,335.0 L1069.6,333.0 L1070.6,330.9 L1071.6,328.8 L1072.6,326.7 L1073.6,324.5 L1074.6,322.3 L1075.6,320.0 L1076.6,317.7 L1077.6,315.4 L1078.6,313.0 L1079.6,310.5 L1080.6,308.0 L1081.6,305.5 L1082.6,302.9 L1083.6,300.3 L1084.6,297.6 L1085.6,294.8 L1086.6,292.0 L1087.6,289.2 L1088.6,286.2 L1089.6,283.3 L1090.6,280.2 L1091.6,277.1 L1092.6,273.9 L1093.6,270.6" fill="none" stroke="#1010ff" stroke-width="5.5" stroke-linecap="butt" stroke-linejoin="round"/><g fill="#1010ff"><path d="M1082.5,268.5 A1.9,1.9 0 0 1 1082.5,272.3 Z"/><circle cx="1093.5" cy="270.4" r="1.9"/><circle cx="1104.5" cy="270.4" r="1.9"/></g><path d="M822.6,448.2 L823.6,447.6 L824.6,447.0 L825.6,446.6 L826.6,446.2 L827.6,445.8 L828.6,445.5 L829.6,445.2 L830.6,444.9 L831.6,444.7 L832.6,444.4 L833.6,444.2 L834.6,444.0 L835.6,443.8 L836.6,443.7 L837.6,443.5 L838.6,443.3 L839.6,443.2 L840.6,443.0 L841.6,442.9 L842.6,442.7 L843.6,442.6 L844.6,442.4 L845.6,442.3 L846.6,442.2 L847.6,442.0 L848.6,441.9 L849.6,441.7 L850.6,441.6 L851.6,441.5 L852.6,441.3 L853.6,441.2 L854.6,441.1 L855.6,441.0 L856.6,440.8 L857.6,440.7 L858.6,440.6 L859.6,440.4 L860.6,440.3 L861.6,440.2 L862.6,440.1 L863.6,439.9 L864.6,439.8 L865.6,439.7 L866.6,439.6 L867.6,439.5 L868.6,439.3 L869.6,439.2 L870.6,439.1 L871.6,439.0 L872.6,438.9 L873.6,438.7 L874.6,438.6 L875.6,438.5 L876.6,438.4 L877.6,438.3 L878.6,438.2 L879.6,438.0 L880.6,437.9 L881.6,437.8 L882.6,437.7 L883.6,437.6 L884.6,437.5 L885.6,437.4 L886.6,437.2 L887.6,437.1 L888.6,437.0 L889.6,436.9 L890.6,436.8 L891.6,436.7 L892.6,436.6 L893.6,436.5 L894.6,436.4 L895.6,436.3 L896.6,436.1 L897.6,436.0 L898.6,435.9 L899.6,435.8 L900.6,435.7 L901.6,435.6 L902.6,435.5 L903.6,435.4 L904.6,435.3 L905.6,435.2 L906.6,435.1 L907.6,435.0 L908.6,434.9 L909.6,434.8 L910.6,434.7 L911.6,434.6 L912.6,434.5 L913.6,434.4 L914.6,434.3 L915.6,434.2 L916.6,434.1 L917.6,434.0 L918.6,433.9 L919.6,433.8 L920.6,433.7 L921.6,433.6 L922.6,433.5 L923.6,433.4 L924.6,433.3 L925.6,433.2 L926.6,433.1 L927.6,433.0 L928.6,432.9 L929.6,432.8 L930.6,432.7 L931.6,432.6 L932.6,432.5 L933.6,432.4 L934.6,432.3 L935.6,432.2 L936.6,432.1 L937.6,432.0 L938.6,431.9 L939.6,431.8 L940.6,431.7 L941.6,431.6 L942.6,431.5 L943.6,431.4 L944.6,431.3 L945.6,431.2 L946.6,431.1 L947.6,431.1 L948.6,431.0 L949.6,430.9 L950.6,430.8 L951.6,430.7 L952.6,430.6 L953.6,430.5 L954.6,430.4 L955.6,430.3 L956.6,430.2 L957.6,430.1 L958.6,430.0 L959.6,429.9 L960.6,429.8 L961.6,429.7 L962.6,429.6 L963.6,429.5 L964.6,429.4 L965.6,429.3 L966.6,429.2 L967.6,429.1 L968.6,429.0 L969.6,428.9 L970.6,428.8 L971.6,428.7 L972.6,428.6 L973.6,428.5 L974.6,428.4 L975.6,428.3 L976.6,428.2 L977.6,428.1 L978.6,428.0 L979.6,427.9 L980.6,427.8 L981.6,427.7 L982.6,427.6 L983.6,427.5 L984.6,427.4 L985.6,427.3 L986.6,427.2 L987.6,427.1 L988.6,427.0 L989.6,426.9 L990.6,426.7 L991.6,426.6 L992.6,426.5 L993.6,426.4 L994.6,426.3 L995.6,426.2 L996.6,426.1 L997.6,426.0 L998.6,425.8 L999.6,425.7 L1000.6,425.6 L1001.6,425.5 L1002.6,425.4 L1003.6,425.2 L1004.6,425.1 L1005.6,425.0 L1006.6,424.9 L1007.6,424.7 L1008.6,424.6 L1009.6,424.5 L1010.6,424.4 L1011.6,424.2 L1012.6,424.1 L1013.6,424.0 L1014.6,423.8 L1015.6,423.7 L1016.6,423.6 L1017.6,423.4 L1018.6,423.3 L1019.6,423.1 L1020.6,423.0 L1021.6,422.8 L1022.6,422.7 L1023.6,422.6 L1024.6,422.4 L1025.6,422.2 L1026.6,422.1 L1027.6,421.9 L1028.6,421.8 L1029.6,421.6 L1030.6,421.5 L1031.6,421.3 L1032.6,421.1 L1033.6,421.0 L1034.6,420.8 L1035.6,420.6 L1036.6,420.4 L1037.6,420.3 L1038.6,420.1 L1039.6,419.9 L1040.6,419.7 L1041.6,419.5 L1042.6,419.3 L1043.6,419.1 L1044.6,419.0 L1045.6,418.8 L1046.6,418.6 L1047.6,418.4 L1048.6,418.1 L1049.6,417.9 L1050.6,417.7 L1051.6,417.5 L1052.6,417.3 L1053.6,417.1 L1054.6,416.8 L1055.6,416.6 L1056.6,416.4 L1057.6,416.1 L1058.6,415.9 L1059.6,415.7 L1060.6,415.4 L1061.6,415.2 L1062.6,414.9 L1063.6,414.7 L1064.6,414.4 L1065.6,414.1 L1066.6,413.9 L1067.6,413.6 L1068.6,413.3 L1069.6,413.0 L1070.6,412.7 L1071.6,412.4 L1072.6,412.2 L1073.6,411.9 L1074.6,411.5 L1075.6,411.2 L1076.6,410.9 L1077.6,410.6 L1078.6,410.3 L1079.6,409.9 L1080.6,409.6 L1081.6,409.3 L1082.6,408.9 L1083.6,408.6 L1084.6,408.2 L1085.6,407.8 L1086.6,407.5 L1087.6,407.1 L1088.6,406.7 L1089.6,406.3 L1090.6,405.9 L1091.6,405.5 L1092.6,405.1 L1093.6,404.7 L1094.6,404.3 L1095.6,403.8 L1096.6,403.4 L1097.6,403.0 L1098.6,402.5 L1099.6,402.0 L1100.6,401.6 L1101.6,401.1 L1102.6,400.6 L1103.6,400.1 L1104.6,399.6 L1105.6,399.1 L1106.6,398.6 L1107.6,398.1 L1108.6,397.5 L1109.6,397.0 L1110.6,396.4 L1111.6,395.9 L1112.6,395.3 L1113.6,394.7 L1114.6,394.1 L1115.6,393.5 L1116.6,392.9 L1117.6,392.3 L1118.6,391.7 L1119.6,391.0 L1120.6,390.4 L1121.6,389.7 L1122.6,389.0 L1123.6,388.3 L1124.6,387.6 L1125.6,386.9 L1126.6,386.2 L1127.6,385.5 L1128.6,384.7 L1129.6,383.9 L1130.6,383.2 L1131.6,382.4 L1132.6,381.6 L1133.6,380.8 L1134.6,379.9 L1135.6,379.1 L1136.6,378.2 L1137.6,377.3 L1138.6,376.5 L1139.6,375.5 L1140.6,374.6 L1141.6,373.7 L1142.6,372.7 L1143.6,371.8 L1144.6,370.8 L1145.6,369.8 L1146.6,368.7 L1147.6,367.7 L1148.6,366.6 L1149.6,365.6 L1150.6,364.5 L1151.6,363.3 L1152.6,362.2 L1153.6,361.0 L1154.6,359.9 L1155.6,358.7 L1156.6,357.5 L1157.6,356.2 L1158.6,355.0 L1159.6,353.7 L1160.6,352.4 L1161.6,351.0 L1162.6,349.7 L1163.6,348.3 L1164.6,346.9 L1165.6,345.5 L1166.6,344.0 L1167.6,342.5 L1168.6,341.0 L1169.6,339.5 L1170.6,338.0 L1171.6,336.4 L1172.6,334.8 L1173.6,333.1 L1174.6,331.5 L1175.6,329.8 L1176.6,328.0 L1177.6,326.3 L1178.6,324.5 L1179.6,322.7 L1180.6,320.8 L1181.6,318.9 L1182.6,317.0 L1183.6,315.1 L1184.6,313.1 L1185.6,311.1 L1186.6,309.0 L1187.6,307.0 L1188.6,304.9 L1189.6,302.7 L1190.6,300.5 L1191.6,298.3 L1192.6,296.1 L1193.6,293.8 L1194.6,291.4 L1195.6,289.1 L1196.6,286.7 L1197.6,284.3 L1198.6,281.8 L1199.6,279.4 L1200.6,276.8 L1201.6,274.3 L1202.6,271.7 L1203.6,269.1 L1204.6,266.5 L1205.6,263.9 L1206.6,261.2 L1207.6,258.6 L1208.6,255.9 L1209.6,253.2 L1210.6,250.6 L1211.6,247.9 L1211.6,314.1 L1210.6,317.0 L1209.6,319.6 L1208.6,322.1 L1207.6,324.5 L1206.6,326.8 L1205.6,328.9 L1204.6,331.0 L1203.6,333.0 L1202.6,334.9 L1201.6,336.7 L1200.6,338.5 L1199.6,340.2 L1198.6,341.9 L1197.6,343.5 L1196.6,345.0 L1195.6,346.6 L1194.6,348.0 L1193.6,349.5 L1192.6,350.9 L1191.6,352.3 L1190.6,353.6 L1189.6,354.9 L1188.6,356.2 L1187.6,357.5 L1186.6,358.8 L1185.6,360.0 L1184.6,361.2 L1183.6,362.4 L1182.6,363.5 L1181.6,364.7 L1180.6,365.8 L1179.6,366.9 L1178.6,368.0 L1177.6,369.1 L1176.6,370.1 L1175.6,371.2 L1174.6,372.2 L1173.6,373.2 L1172.6,374.2 L1171.6,375.2 L1170.6,376.1 L1169.6,377.1 L1168.6,378.0 L1167.6,378.9 L1166.6,379.8 L1165.6,380.7 L1164.6,381.6 L1163.6,382.5 L1162.6,383.3 L1161.6,384.2 L1160.6,385.0 L1159.6,385.8 L1158.6,386.6 L1157.6,387.4 L1156.6,388.2 L1155.6,389.0 L1154.6,389.8 L1153.6,390.5 L1152.6,391.2 L1151.6,392.0 L1150.6,392.7 L1149.6,393.4 L1148.6,394.1 L1147.6,394.8 L1146.6,395.5 L1145.6,396.1 L1144.6,396.8 L1143.6,397.4 L1142.6,398.1 L1141.6,398.7 L1140.6,399.3 L1139.6,399.9 L1138.6,400.5 L1137.6,401.1 L1136.6,401.7 L1135.6,402.3 L1134.6,402.8 L1133.6,403.4 L1132.6,404.0 L1131.6,404.5 L1130.6,405.0 L1129.6,405.5 L1128.6,406.1 L1127.6,406.6 L1126.6,407.1 L1125.6,407.6 L1124.6,408.1 L1123.6,408.5 L1122.6,409.0 L1121.6,409.5 L1120.6,409.9 L1119.6,410.4 L1118.6,410.8 L1117.6,411.3 L1116.6,411.7 L1115.6,412.1 L1114.6,412.5 L1113.6,412.9 L1112.6,413.3 L1111.6,413.7 L1110.6,414.1 L1109.6,414.5 L1108.6,414.9 L1107.6,415.3 L1106.6,415.6 L1105.6,416.0 L1104.6,416.4 L1103.6,416.7 L1102.6,417.1 L1101.6,417.4 L1100.6,417.7 L1099.6,418.1 L1098.6,418.4 L1097.6,418.7 L1096.6,419.0 L1095.6,419.3 L1094.6,419.7 L1093.6,420.0 L1092.6,420.3 L1091.6,420.5 L1090.6,420.8 L1089.6,421.1 L1088.6,421.4 L1087.6,421.7 L1086.6,421.9 L1085.6,422.2 L1084.6,422.5 L1083.6,422.7 L1082.6,423.0 L1081.6,423.2 L1080.6,423.5 L1079.6,423.7 L1078.6,424.0 L1077.6,424.2 L1076.6,424.4 L1075.6,424.7 L1074.6,424.9 L1073.6,425.1 L1072.6,425.3 L1071.6,425.5 L1070.6,425.8 L1069.6,426.0 L1068.6,426.2 L1067.6,426.4 L1066.6,426.6 L1065.6,426.8 L1064.6,427.0 L1063.6,427.2 L1062.6,427.3 L1061.6,427.5 L1060.6,427.7 L1059.6,427.9 L1058.6,428.1 L1057.6,428.3 L1056.6,428.4 L1055.6,428.6 L1054.6,428.8 L1053.6,428.9 L1052.6,429.1 L1051.6,429.3 L1050.6,429.4 L1049.6,429.6 L1048.6,429.7 L1047.6,429.9 L1046.6,430.0 L1045.6,430.2 L1044.6,430.3 L1043.6,430.5 L1042.6,430.6 L1041.6,430.7 L1040.6,430.9 L1039.6,431.0 L1038.6,431.2 L1037.6,431.3 L1036.6,431.4 L1035.6,431.6 L1034.6,431.7 L1033.6,431.8 L1032.6,431.9 L1031.6,432.1 L1030.6,432.2 L1029.6,432.3 L1028.6,432.4 L1027.6,432.5 L1026.6,432.7 L1025.6,432.8 L1024.6,432.9 L1023.6,433.0 L1022.6,433.1 L1021.6,433.2 L1020.6,433.3 L1019.6,433.4 L1018.6,433.5 L1017.6,433.6 L1016.6,433.8 L1015.6,433.9 L1014.6,434.0 L1013.6,434.1 L1012.6,434.2 L1011.6,434.3 L1010.6,434.4 L1009.6,434.5 L1008.6,434.5 L1007.6,434.6 L1006.6,434.7 L1005.6,434.8 L1004.6,434.9 L1003.6,435.0 L1002.6,435.1 L1001.6,435.2 L1000.6,435.3 L999.6,435.4 L998.6,435.5 L997.6,435.6 L996.6,435.6 L995.6,435.7 L994.6,435.8 L993.6,435.9 L992.6,436.0 L991.6,436.1 L990.6,436.2 L989.6,436.2 L988.6,436.3 L987.6,436.4 L986.6,436.5 L985.6,436.6 L984.6,436.6 L983.6,436.7 L982.6,436.8 L981.6,436.9 L980.6,437.0 L979.6,437.0 L978.6,437.1 L977.6,437.2 L976.6,437.3 L975.6,437.3 L974.6,437.4 L973.6,437.5 L972.6,437.6 L971.6,437.7 L970.6,437.7 L969.6,437.8 L968.6,437.9 L967.6,438.0 L966.6,438.0 L965.6,438.1 L964.6,438.2 L963.6,438.3 L962.6,438.3 L961.6,438.4 L960.6,438.5 L959.6,438.5 L958.6,438.6 L957.6,438.7 L956.6,438.8 L955.6,438.8 L954.6,438.9 L953.6,439.0 L952.6,439.1 L951.6,439.1 L950.6,439.2 L949.6,439.3 L948.6,439.4 L947.6,439.4 L946.6,439.5 L945.6,439.6 L944.6,439.6 L943.6,439.7 L942.6,439.8 L941.6,439.9 L940.6,439.9 L939.6,440.0 L938.6,440.1 L937.6,440.2 L936.6,440.2 L935.6,440.3 L934.6,440.4 L933.6,440.5 L932.6,440.5 L931.6,440.6 L930.6,440.7 L929.6,440.8 L928.6,440.8 L927.6,440.9 L926.6,441.0 L925.6,441.1 L924.6,441.1 L923.6,441.2 L922.6,441.3 L921.6,441.4 L920.6,441.4 L919.6,441.5 L918.6,441.6 L917.6,441.7 L916.6,441.7 L915.6,441.8 L914.6,441.9 L913.6,442.0 L912.6,442.1 L911.6,442.1 L910.6,442.2 L909.6,442.3 L908.6,442.4 L907.6,442.5 L906.6,442.5 L905.6,442.6 L904.6,442.7 L903.6,442.8 L902.6,442.9 L901.6,442.9 L900.6,443.0 L899.6,443.1 L898.6,443.2 L897.6,443.3 L896.6,443.4 L895.6,443.4 L894.6,443.5 L893.6,443.6 L892.6,443.7 L891.6,443.8 L890.6,443.9 L889.6,443.9 L888.6,444.0 L887.6,444.1 L886.6,444.2 L885.6,444.3 L884.6,444.4 L883.6,444.5 L882.6,444.6 L881.6,444.6 L880.6,444.7 L879.6,444.8 L878.6,444.9 L877.6,445.0 L876.6,445.1 L875.6,445.2 L874.6,445.3 L873.6,445.4 L872.6,445.5 L871.6,445.6 L870.6,445.6 L869.6,445.7 L868.6,445.8 L867.6,445.9 L866.6,446.0 L865.6,446.1 L864.6,446.2 L863.6,446.3 L862.6,446.4 L861.6,446.5 L860.6,446.6 L859.6,446.7 L858.6,446.8 L857.6,446.9 L856.6,447.0 L855.6,447.1 L854.6,447.2 L853.6,447.3 L852.6,447.4 L851.6,447.5 L850.6,447.6 L849.6,447.7 L848.6,447.8 L847.6,447.9 L846.6,448.0 L845.6,448.1 L844.6,448.2 L843.6,448.3 L842.6,448.4 L841.6,448.5 L840.6,448.6 L839.6,448.7 L838.6,448.8 L837.6,448.9 L836.6,448.9 L835.6,449.0 L834.6,449.1 L833.6,449.1 L832.6,449.2 L831.6,449.2 L830.6,449.2 L829.6,449.2 L828.6,449.2 L827.6,449.2 L826.6,449.1 L825.6,449.0 L824.6,448.8 L823.6,448.5 L822.6,448.2 Z" fill="#ff4040"/><path d="M822.6,448.2 L823.6,447.6 L824.6,447.0 L825.6,446.6 L826.6,446.2 L827.6,445.8 L828.6,445.5 L829.6,445.2 L830.6,444.9 L831.6,444.7 L832.6,444.4 L833.6,444.2 L834.6,444.0 L835.6,443.8 L836.6,443.7 L837.6,443.5 L838.6,443.3 L839.6,443.2 L840.6,443.0 L841.6,442.9 L842.6,442.7 L843.6,442.6 L844.6,442.4 L845.6,442.3 L846.6,442.2 L847.6,442.0 L848.6,441.9 L849.6,441.7 L850.6,441.6 L851.6,441.5 L852.6,441.3 L853.6,441.2 L854.6,441.1 L855.6,441.0 L856.6,440.8 L857.6,440.7 L858.6,440.6 L859.6,440.4 L860.6,440.3 L861.6,440.2 L862.6,440.1 L863.6,439.9 L864.6,439.8 L865.6,439.7 L866.6,439.6 L867.6,439.5 L868.6,439.3 L869.6,439.2 L870.6,439.1 L871.6,439.0 L872.6,438.9 L873.6,438.7 L874.6,438.6 L875.6,438.5 L876.6,438.4 L877.6,438.3 L878.6,438.2 L879.6,438.0 L880.6,437.9 L881.6,437.8 L882.6,437.7 L883.6,437.6 L884.6,437.5 L885.6,437.4 L886.6,437.2 L887.6,437.1 L888.6,437.0 L889.6,436.9 L890.6,436.8 L891.6,436.7 L892.6,436.6 L893.6,436.5 L894.6,436.4 L895.6,436.3 L896.6,436.1 L897.6,436.0 L898.6,435.9 L899.6,435.8 L900.6,435.7 L901.6,435.6 L902.6,435.5 L903.6,435.4 L904.6,435.3 L905.6,435.2 L906.6,435.1 L907.6,435.0 L908.6,434.9 L909.6,434.8 L910.6,434.7 L911.6,434.6 L912.6,434.5 L913.6,434.4 L914.6,434.3 L915.6,434.2 L916.6,434.1 L917.6,434.0 L918.6,433.9 L919.6,433.8 L920.6,433.7 L921.6,433.6 L922.6,433.5 L923.6,433.4 L924.6,433.3 L925.6,433.2 L926.6,433.1 L927.6,433.0 L928.6,432.9 L929.6,432.8 L930.6,432.7 L931.6,432.6 L932.6,432.5 L933.6,432.4 L934.6,432.3 L935.6,432.2 L936.6,432.1 L937.6,432.0 L938.6,431.9 L939.6,431.8 L940.6,431.7 L941.6,431.6 L942.6,431.5 L943.6,431.4 L944.6,431.3 L945.6,431.2 L946.6,431.1 L947.6,431.1 L948.6,431.0 L949.6,430.9 L950.6,430.8 L951.6,430.7 L952.6,430.6 L953.6,430.5 L954.6,430.4 L955.6,430.3 L956.6,430.2 L957.6,430.1 L958.6,430.0 L959.6,429.9 L960.6,429.8 L961.6,429.7 L962.6,429.6 L963.6,429.5 L964.6,429.4 L965.6,429.3 L966.6,429.2 L967.6,429.1 L968.6,429.0 L969.6,428.9 L970.6,428.8 L971.6,428.7 L972.6,428.6 L973.6,428.5 L974.6,428.4 L975.6,428.3 L976.6,428.2 L977.6,428.1 L978.6,428.0 L979.6,427.9 L980.6,427.8 L981.6,427.7 L982.6,427.6 L983.6,427.5 L984.6,427.4 L985.6,427.3 L986.6,427.2 L987.6,427.1 L988.6,427.0 L989.6,426.9 L990.6,426.7 L991.6,426.6 L992.6,426.5 L993.6,426.4 L994.6,426.3 L995.6,426.2 L996.6,426.1 L997.6,426.0 L998.6,425.8 L999.6,425.7 L1000.6,425.6 L1001.6,425.5 L1002.6,425.4 L1003.6,425.2 L1004.6,425.1 L1005.6,425.0 L1006.6,424.9 L1007.6,424.7 L1008.6,424.6 L1009.6,424.5 L1010.6,424.4 L1011.6,424.2 L1012.6,424.1 L1013.6,424.0 L1014.6,423.8 L1015.6,423.7 L1016.6,423.6 L1017.6,423.4 L1018.6,423.3 L1019.6,423.1 L1020.6,423.0 L1021.6,422.8 L1022.6,422.7 L1023.6,422.6 L1024.6,422.4 L1025.6,422.2 L1026.6,422.1 L1027.6,421.9 L1028.6,421.8 L1029.6,421.6 L1030.6,421.5 L1031.6,421.3 L1032.6,421.1 L1033.6,421.0 L1034.6,420.8 L1035.6,420.6 L1036.6,420.4 L1037.6,420.3 L1038.6,420.1 L1039.6,419.9 L1040.6,419.7 L1041.6,419.5 L1042.6,419.3 L1043.6,419.1 L1044.6,419.0 L1045.6,418.8 L1046.6,418.6 L1047.6,418.4 L1048.6,418.1 L1049.6,417.9 L1050.6,417.7 L1051.6,417.5 L1052.6,417.3 L1053.6,417.1 L1054.6,416.8 L1055.6,416.6 L1056.6,416.4 L1057.6,416.1 L1058.6,415.9 L1059.6,415.7 L1060.6,415.4 L1061.6,415.2 L1062.6,414.9 L1063.6,414.7 L1064.6,414.4 L1065.6,414.1 L1066.6,413.9 L1067.6,413.6 L1068.6,413.3 L1069.6,413.0 L1070.6,412.7 L1071.6,412.4 L1072.6,412.2 L1073.6,411.9 L1074.6,411.5 L1075.6,411.2 L1076.6,410.9 L1077.6,410.6 L1078.6,410.3 L1079.6,409.9 L1080.6,409.6 L1081.6,409.3 L1082.6,408.9 L1083.6,408.6 L1084.6,408.2 L1085.6,407.8 L1086.6,407.5 L1087.6,407.1 L1088.6,406.7 L1089.6,406.3 L1090.6,405.9 L1091.6,405.5 L1092.6,405.1 L1093.6,404.7 L1094.6,404.3 L1095.6,403.8 L1096.6,403.4 L1097.6,403.0 L1098.6,402.5 L1099.6,402.0 L1100.6,401.6 L1101.6,401.1 L1102.6,400.6 L1103.6,400.1 L1104.6,399.6 L1105.6,399.1 L1106.6,398.6 L1107.6,398.1 L1108.6,397.5 L1109.6,397.0 L1110.6,396.4 L1111.6,395.9 L1112.6,395.3 L1113.6,394.7 L1114.6,394.1 L1115.6,393.5 L1116.6,392.9 L1117.6,392.3 L1118.6,391.7 L1119.6,391.0 L1120.6,390.4 L1121.6,389.7 L1122.6,389.0 L1123.6,388.3 L1124.6,387.6 L1125.6,386.9 L1126.6,386.2 L1127.6,385.5 L1128.6,384.7 L1129.6,383.9 L1130.6,383.2 L1131.6,382.4 L1132.6,381.6 L1133.6,380.8 L1134.6,379.9 L1135.6,379.1 L1136.6,378.2 L1137.6,377.3 L1138.6,376.5 L1139.6,375.5 L1140.6,374.6 L1141.6,373.7 L1142.6,372.7 L1143.6,371.8 L1144.6,370.8 L1145.6,369.8 L1146.6,368.7 L1147.6,367.7 L1148.6,366.6 L1149.6,365.6 L1150.6,364.5 L1151.6,363.3 L1152.6,362.2 L1153.6,361.0 L1154.6,359.9 L1155.6,358.7 L1156.6,357.5 L1157.6,356.2 L1158.6,355.0 L1159.6,353.7 L1160.6,352.4 L1161.6,351.0 L1162.6,349.7 L1163.6,348.3 L1164.6,346.9 L1165.6,345.5 L1166.6,344.0 L1167.6,342.5 L1168.6,341.0 L1169.6,339.5 L1170.6,338.0 L1171.6,336.4 L1172.6,334.8 L1173.6,333.1 L1174.6,331.5 L1175.6,329.8 L1176.6,328.0 L1177.6,326.3 L1178.6,324.5 L1179.6,322.7 L1180.6,320.8 L1181.6,318.9 L1182.6,317.0 L1183.6,315.1 L1184.6,313.1 L1185.6,311.1 L1186.6,309.0 L1187.6,307.0 L1188.6,304.9 L1189.6,302.7 L1190.6,300.5 L1191.6,298.3 L1192.6,296.1 L1193.6,293.8 L1194.6,291.4 L1195.6,289.1 L1196.6,286.7 L1197.6,284.3 L1198.6,281.8 L1199.6,279.4 L1200.6,276.8 L1201.6,274.3 L1202.6,271.7 L1203.6,269.1 L1204.6,266.5 L1205.6,263.9 L1206.6,261.2 L1207.6,258.6 L1208.6,255.9 L1209.6,253.2 L1210.6,250.6 L1211.6,247.9" fill="none" stroke="#ff1010" stroke-width="3.6" stroke-linecap="round" stroke-dasharray="0 11"/><path d="M822.6,448.2 L823.6,448.5 L824.6,448.8 L825.6,449.0 L826.6,449.1 L827.6,449.2 L828.6,449.2 L829.6,449.2 L830.6,449.2 L831.6,449.2 L832.6,449.2 L833.6,449.1 L834.6,449.1 L835.6,449.0 L836.6,448.9 L837.6,448.9 L838.6,448.8 L839.6,448.7 L840.6,448.6 L841.6,448.5 L842.6,448.4 L843.6,448.3 L844.6,448.2 L845.6,448.1 L846.6,448.0 L847.6,447.9 L848.6,447.8 L849.6,447.7 L850.6,447.6 L851.6,447.5 L852.6,447.4 L853.6,447.3 L854.6,447.2 L855.6,447.1 L856.6,447.0 L857.6,446.9 L858.6,446.8 L859.6,446.7 L860.6,446.6 L861.6,446.5 L862.6,446.4 L863.6,446.3 L864.6,446.2 L865.6,446.1 L866.6,446.0 L867.6,445.9 L868.6,445.8 L869.6,445.7 L870.6,445.6 L871.6,445.6 L872.6,445.5 L873.6,445.4 L874.6,445.3 L875.6,445.2 L876.6,445.1 L877.6,445.0 L878.6,444.9 L879.6,444.8 L880.6,444.7 L881.6,444.6 L882.6,444.6 L883.6,444.5 L884.6,444.4 L885.6,444.3 L886.6,444.2 L887.6,444.1 L888.6,444.0 L889.6,443.9 L890.6,443.9 L891.6,443.8 L892.6,443.7 L893.6,443.6 L894.6,443.5 L895.6,443.4 L896.6,443.4 L897.6,443.3 L898.6,443.2 L899.6,443.1 L900.6,443.0 L901.6,442.9 L902.6,442.9 L903.6,442.8 L904.6,442.7 L905.6,442.6 L906.6,442.5 L907.6,442.5 L908.6,442.4 L909.6,442.3 L910.6,442.2 L911.6,442.1 L912.6,442.1 L913.6,442.0 L914.6,441.9 L915.6,441.8 L916.6,441.7 L917.6,441.7 L918.6,441.6 L919.6,441.5 L920.6,441.4 L921.6,441.4 L922.6,441.3 L923.6,441.2 L924.6,441.1 L925.6,441.1 L926.6,441.0 L927.6,440.9 L928.6,440.8 L929.6,440.8 L930.6,440.7 L931.6,440.6 L932.6,440.5 L933.6,440.5 L934.6,440.4 L935.6,440.3 L936.6,440.2 L937.6,440.2 L938.6,440.1 L939.6,440.0 L940.6,439.9 L941.6,439.9 L942.6,439.8 L943.6,439.7 L944.6,439.6 L945.6,439.6 L946.6,439.5 L947.6,439.4 L948.6,439.4 L949.6,439.3 L950.6,439.2 L951.6,439.1 L952.6,439.1 L953.6,439.0 L954.6,438.9 L955.6,438.8 L956.6,438.8 L957.6,438.7 L958.6,438.6 L959.6,438.5 L960.6,438.5 L961.6,438.4 L962.6,438.3 L963.6,438.3 L964.6,438.2 L965.6,438.1 L966.6,438.0 L967.6,438.0 L968.6,437.9 L969.6,437.8 L970.6,437.7 L971.6,437.7 L972.6,437.6 L973.6,437.5 L974.6,437.4 L975.6,437.3 L976.6,437.3 L977.6,437.2 L978.6,437.1 L979.6,437.0 L980.6,437.0 L981.6,436.9 L982.6,436.8 L983.6,436.7 L984.6,436.6 L985.6,436.6 L986.6,436.5 L987.6,436.4 L988.6,436.3 L989.6,436.2 L990.6,436.2 L991.6,436.1 L992.6,436.0 L993.6,435.9 L994.6,435.8 L995.6,435.7 L996.6,435.6 L997.6,435.6 L998.6,435.5 L999.6,435.4 L1000.6,435.3 L1001.6,435.2 L1002.6,435.1 L1003.6,435.0 L1004.6,434.9 L1005.6,434.8 L1006.6,434.7 L1007.6,434.6 L1008.6,434.5 L1009.6,434.5 L1010.6,434.4 L1011.6,434.3 L1012.6,434.2 L1013.6,434.1 L1014.6,434.0 L1015.6,433.9 L1016.6,433.8 L1017.6,433.6 L1018.6,433.5 L1019.6,433.4 L1020.6,433.3 L1021.6,433.2 L1022.6,433.1 L1023.6,433.0 L1024.6,432.9 L1025.6,432.8 L1026.6,432.7 L1027.6,432.5 L1028.6,432.4 L1029.6,432.3 L1030.6,432.2 L1031.6,432.1 L1032.6,431.9 L1033.6,431.8 L1034.6,431.7 L1035.6,431.6 L1036.6,431.4 L1037.6,431.3 L1038.6,431.2 L1039.6,431.0 L1040.6,430.9 L1041.6,430.7 L1042.6,430.6 L1043.6,430.5 L1044.6,430.3 L1045.6,430.2 L1046.6,430.0 L1047.6,429.9 L1048.6,429.7 L1049.6,429.6 L1050.6,429.4 L1051.6,429.3 L1052.6,429.1 L1053.6,428.9 L1054.6,428.8 L1055.6,428.6 L1056.6,428.4 L1057.6,428.3 L1058.6,428.1 L1059.6,427.9 L1060.6,427.7 L1061.6,427.5 L1062.6,427.3 L1063.6,427.2 L1064.6,427.0 L1065.6,426.8 L1066.6,426.6 L1067.6,426.4 L1068.6,426.2 L1069.6,426.0 L1070.6,425.8 L1071.6,425.5 L1072.6,425.3 L1073.6,425.1 L1074.6,424.9 L1075.6,424.7 L1076.6,424.4 L1077.6,424.2 L1078.6,424.0 L1079.6,423.7 L1080.6,423.5 L1081.6,423.2 L1082.6,423.0 L1083.6,422.7 L1084.6,422.5 L1085.6,422.2 L1086.6,421.9 L1087.6,421.7 L1088.6,421.4 L1089.6,421.1 L1090.6,420.8 L1091.6,420.5 L1092.6,420.3 L1093.6,420.0 L1094.6,419.7 L1095.6,419.3 L1096.6,419.0 L1097.6,418.7 L1098.6,418.4 L1099.6,418.1 L1100.6,417.7 L1101.6,417.4 L1102.6,417.1 L1103.6,416.7 L1104.6,416.4 L1105.6,416.0 L1106.6,415.6 L1107.6,415.3 L1108.6,414.9 L1109.6,414.5 L1110.6,414.1 L1111.6,413.7 L1112.6,413.3 L1113.6,412.9 L1114.6,412.5 L1115.6,412.1 L1116.6,411.7 L1117.6,411.3 L1118.6,410.8 L1119.6,410.4 L1120.6,409.9 L1121.6,409.5 L1122.6,409.0 L1123.6,408.5 L1124.6,408.1 L1125.6,407.6 L1126.6,407.1 L1127.6,406.6 L1128.6,406.1 L1129.6,405.5 L1130.6,405.0 L1131.6,404.5 L1132.6,404.0 L1133.6,403.4 L1134.6,402.8 L1135.6,402.3 L1136.6,401.7 L1137.6,401.1 L1138.6,400.5 L1139.6,399.9 L1140.6,399.3 L1141.6,398.7 L1142.6,398.1 L1143.6,397.4 L1144.6,396.8 L1145.6,396.1 L1146.6,395.5 L1147.6,394.8 L1148.6,394.1 L1149.6,393.4 L1150.6,392.7 L1151.6,392.0 L1152.6,391.2 L1153.6,390.5 L1154.6,389.8 L1155.6,389.0 L1156.6,388.2 L1157.6,387.4 L1158.6,386.6 L1159.6,385.8 L1160.6,385.0 L1161.6,384.2 L1162.6,383.3 L1163.6,382.5 L1164.6,381.6 L1165.6,380.7 L1166.6,379.8 L1167.6,378.9 L1168.6,378.0 L1169.6,377.1 L1170.6,376.1 L1171.6,375.2 L1172.6,374.2 L1173.6,373.2 L1174.6,372.2 L1175.6,371.2 L1176.6,370.1 L1177.6,369.1 L1178.6,368.0 L1179.6,366.9 L1180.6,365.8 L1181.6,364.7 L1182.6,363.5 L1183.6,362.4 L1184.6,361.2 L1185.6,360.0 L1186.6,358.8 L1187.6,357.5 L1188.6,356.2 L1189.6,354.9 L1190.6,353.6 L1191.6,352.3 L1192.6,350.9 L1193.6,349.5 L1194.6,348.0 L1195.6,346.6 L1196.6,345.0 L1197.6,343.5 L1198.6,341.9 L1199.6,340.2 L1200.6,338.5 L1201.6,336.7 L1202.6,334.9 L1203.6,333.0 L1204.6,331.0 L1205.6,328.9 L1206.6,326.8 L1207.6,324.5 L1208.6,322.1 L1209.6,319.6 L1210.6,317.0 L1211.6,314.1" fill="none" stroke="#ff1010" stroke-width="3.6" stroke-linecap="round" stroke-dasharray="0 11"/><path d="M822.6,448.2 L823.6,448.1 L824.6,447.9 L825.6,447.8 L826.6,447.7 L827.6,447.5 L828.6,447.4 L829.6,447.3 L830.6,447.2 L831.6,447.0 L832.6,446.9 L833.6,446.8 L834.6,446.7 L835.6,446.5 L836.6,446.4 L837.6,446.3 L838.6,446.2 L839.6,446.0 L840.6,445.9 L841.6,445.8 L842.6,445.7 L843.6,445.6 L844.6,445.4 L845.6,445.3 L846.6,445.2 L847.6,445.1 L848.6,445.0 L849.6,444.8 L850.6,444.7 L851.6,444.6 L852.6,444.5 L853.6,444.4 L854.6,444.3 L855.6,444.1 L856.6,444.0 L857.6,443.9 L858.6,443.8 L859.6,443.7 L860.6,443.6 L861.6,443.5 L862.6,443.4 L863.6,443.3 L864.6,443.1 L865.6,443.0 L866.6,442.9 L867.6,442.8 L868.6,442.7 L869.6,442.6 L870.6,442.5 L871.6,442.4 L872.6,442.3 L873.6,442.2 L874.6,442.1 L875.6,442.0 L876.6,441.9 L877.6,441.8 L878.6,441.7 L879.6,441.6 L880.6,441.5 L881.6,441.4 L882.6,441.3 L883.6,441.2 L884.6,441.1 L885.6,441.0 L886.6,440.9 L887.6,440.8 L888.6,440.7 L889.6,440.6 L890.6,440.5 L891.6,440.4 L892.6,440.3 L893.6,440.2 L894.6,440.1 L895.6,440.0 L896.6,439.9 L897.6,439.8 L898.6,439.7 L899.6,439.6 L900.6,439.5 L901.6,439.4 L902.6,439.3 L903.6,439.2 L904.6,439.1 L905.6,439.0 L906.6,439.0 L907.6,438.9 L908.6,438.8 L909.6,438.7 L910.6,438.6 L911.6,438.5 L912.6,438.4 L913.6,438.3 L914.6,438.2 L915.6,438.1 L916.6,438.1 L917.6,438.0 L918.6,437.9 L919.6,437.8 L920.6,437.7 L921.6,437.6 L922.6,437.5 L923.6,437.4 L924.6,437.4 L925.6,437.3 L926.6,437.2 L927.6,437.1 L928.6,437.0 L929.6,436.9 L930.6,436.8 L931.6,436.8 L932.6,436.7 L933.6,436.6 L934.6,436.5 L935.6,436.4 L936.6,436.3 L937.6,436.2 L938.6,436.2 L939.6,436.1 L940.6,436.0 L941.6,435.9 L942.6,435.8 L943.6,435.7 L944.6,435.7 L945.6,435.6 L946.6,435.5 L947.6,435.4 L948.6,435.3 L949.6,435.2 L950.6,435.1 L951.6,435.1 L952.6,435.0 L953.6,434.9 L954.6,434.8 L955.6,434.7 L956.6,434.6 L957.6,434.6 L958.6,434.5 L959.6,434.4 L960.6,434.3 L961.6,434.2 L962.6,434.1 L963.6,434.0 L964.6,434.0 L965.6,433.9 L966.6,433.8 L967.6,433.7 L968.6,433.6 L969.6,433.5 L970.6,433.4 L971.6,433.4 L972.6,433.3 L973.6,433.2 L974.6,433.1 L975.6,433.0 L976.6,432.9 L977.6,432.8 L978.6,432.7 L979.6,432.6 L980.6,432.6 L981.6,432.5 L982.6,432.4 L983.6,432.3 L984.6,432.2 L985.6,432.1 L986.6,432.0 L987.6,431.9 L988.6,431.8 L989.6,431.7 L990.6,431.6 L991.6,431.5 L992.6,431.4 L993.6,431.3 L994.6,431.2 L995.6,431.1 L996.6,431.0 L997.6,430.9 L998.6,430.8 L999.6,430.7 L1000.6,430.6 L1001.6,430.5 L1002.6,430.4 L1003.6,430.3 L1004.6,430.2 L1005.6,430.1 L1006.6,430.0 L1007.6,429.9 L1008.6,429.8 L1009.6,429.7 L1010.6,429.6 L1011.6,429.4 L1012.6,429.3 L1013.6,429.2 L1014.6,429.1 L1015.6,429.0 L1016.6,428.9 L1017.6,428.7 L1018.6,428.6 L1019.6,428.5 L1020.6,428.4 L1021.6,428.2 L1022.6,428.1 L1023.6,428.0 L1024.6,427.8 L1025.6,427.7 L1026.6,427.6 L1027.6,427.4 L1028.6,427.3 L1029.6,427.2 L1030.6,427.0 L1031.6,426.9 L1032.6,426.7 L1033.6,426.6 L1034.6,426.4 L1035.6,426.3 L1036.6,426.1 L1037.6,426.0 L1038.6,425.8 L1039.6,425.7 L1040.6,425.5 L1041.6,425.4 L1042.6,425.2 L1043.6,425.0 L1044.6,424.9 L1045.6,424.7 L1046.6,424.5 L1047.6,424.3 L1048.6,424.2 L1049.6,424.0 L1050.6,423.8 L1051.6,423.6 L1052.6,423.4 L1053.6,423.2 L1054.6,423.0 L1055.6,422.8 L1056.6,422.6 L1057.6,422.4 L1058.6,422.2 L1059.6,422.0 L1060.6,421.8 L1061.6,421.6 L1062.6,421.4 L1063.6,421.2 L1064.6,420.9 L1065.6,420.7 L1066.6,420.5 L1067.6,420.2 L1068.6,420.0 L1069.6,419.7 L1070.6,419.5 L1071.6,419.2 L1072.6,419.0 L1073.6,418.7 L1074.6,418.5 L1075.6,418.2 L1076.6,417.9 L1077.6,417.7 L1078.6,417.4 L1079.6,417.1 L1080.6,416.8 L1081.6,416.5 L1082.6,416.2 L1083.6,415.9 L1084.6,415.6 L1085.6,415.3 L1086.6,415.0 L1087.6,414.7 L1088.6,414.3 L1089.6,414.0 L1090.6,413.7 L1091.6,413.3 L1092.6,413.0 L1093.6,412.6 L1094.6,412.3 L1095.6,411.9 L1096.6,411.5 L1097.6,411.1 L1098.6,410.8 L1099.6,410.4 L1100.6,410.0 L1101.6,409.6 L1102.6,409.2 L1103.6,408.7 L1104.6,408.3 L1105.6,407.9 L1106.6,407.5 L1107.6,407.0 L1108.6,406.6 L1109.6,406.1 L1110.6,405.6 L1111.6,405.2 L1112.6,404.7 L1113.6,404.2 L1114.6,403.7 L1115.6,403.2 L1116.6,402.7 L1117.6,402.1 L1118.6,401.6 L1119.6,401.1 L1120.6,400.5 L1121.6,400.0 L1122.6,399.4 L1123.6,398.8 L1124.6,398.2 L1125.6,397.6 L1126.6,397.0 L1127.6,396.4 L1128.6,395.8 L1129.6,395.2 L1130.6,394.5 L1131.6,393.9 L1132.6,393.2 L1133.6,392.5 L1134.6,391.8 L1135.6,391.1 L1136.6,390.4 L1137.6,389.7 L1138.6,389.0 L1139.6,388.2 L1140.6,387.4 L1141.6,386.7 L1142.6,385.9 L1143.6,385.1 L1144.6,384.3 L1145.6,383.5 L1146.6,382.6 L1147.6,381.8 L1148.6,380.9 L1149.6,380.0 L1150.6,379.1 L1151.6,378.2 L1152.6,377.3 L1153.6,376.3 L1154.6,375.4 L1155.6,374.4 L1156.6,373.4 L1157.6,372.4 L1158.6,371.4 L1159.6,370.4 L1160.6,369.3 L1161.6,368.2 L1162.6,367.2 L1163.6,366.0 L1164.6,364.9 L1165.6,363.8 L1166.6,362.6 L1167.6,361.4 L1168.6,360.2 L1169.6,359.0 L1170.6,357.8 L1171.6,356.5 L1172.6,355.2 L1173.6,353.9 L1174.6,352.6 L1175.6,351.3 L1176.6,349.9 L1177.6,348.5 L1178.6,347.1 L1179.6,345.6 L1180.6,344.2 L1181.6,342.7 L1182.6,341.2 L1183.6,339.6 L1184.6,338.1 L1185.6,336.5 L1186.6,334.9 L1187.6,333.2 L1188.6,331.5 L1189.6,329.8 L1190.6,328.1 L1191.6,326.3 L1192.6,324.5 L1193.6,322.7 L1194.6,320.8 L1195.6,318.9 L1196.6,317.0 L1197.6,315.0 L1198.6,313.0 L1199.6,311.0 L1200.6,308.9 L1201.6,306.7 L1202.6,304.5 L1203.6,302.3 L1204.6,300.0 L1205.6,297.7 L1206.6,295.3 L1207.6,292.8 L1208.6,290.3 L1209.6,287.7 L1210.6,285.0 L1211.6,282.3" fill="none" stroke="#ff1010" stroke-width="5.5" stroke-linecap="butt" stroke-linejoin="round"/><g fill="#ff1010"><path d="M1159.0,280.4 A1.9,1.9 0 0 1 1159.0,284.2 Z"/><circle cx="1170.0" cy="282.3" r="1.9"/><circle cx="1181.0" cy="282.3" r="1.9"/><circle cx="1192.0" cy="282.3" r="1.9"/><circle cx="1203.0" cy="282.3" r="1.9"/><circle cx="1214.0" cy="282.3" r="1.9"/><circle cx="1225.0" cy="282.3" r="1.9"/><circle cx="1236.0" cy="282.3" r="1.9"/><circle cx="1247.0" cy="282.3" r="1.9"/><circle cx="1258.0" cy="282.3" r="1.9"/><path d="M1149.1,306.9 A1.9,1.9 0 0 1 1149.1,310.7 Z"/><circle cx="1160.1" cy="308.8" r="1.9"/><circle cx="1171.1" cy="308.8" r="1.9"/><circle cx="1182.1" cy="308.8" r="1.9"/><circle cx="1193.1" cy="308.8" r="1.9"/><circle cx="1204.1" cy="308.8" r="1.9"/><circle cx="1215.1" cy="308.8" r="1.9"/><circle cx="1226.1" cy="308.8" r="1.9"/><circle cx="1237.1" cy="308.8" r="1.9"/><circle cx="1248.1" cy="308.8" r="1.9"/><path d="M1138.8,329.7 A1.9,1.9 0 0 1 1138.8,333.5 Z"/><circle cx="1149.8" cy="331.6" r="1.9"/><circle cx="1160.8" cy="331.6" r="1.9"/><circle cx="1171.8" cy="331.6" r="1.9"/><circle cx="1182.8" cy="331.6" r="1.9"/><circle cx="1193.8" cy="331.6" r="1.9"/><circle cx="1204.8" cy="331.6" r="1.9"/><circle cx="1215.8" cy="331.6" r="1.9"/><circle cx="1226.8" cy="331.6" r="1.9"/><path d="M1129.4,347.3 A1.9,1.9 0 0 1 1129.4,351.1 Z"/><circle cx="1140.4" cy="349.2" r="1.9"/><circle cx="1151.4" cy="349.2" r="1.9"/><circle cx="1162.4" cy="349.2" r="1.9"/><circle cx="1173.4" cy="349.2" r="1.9"/><circle cx="1184.4" cy="349.2" r="1.9"/><circle cx="1195.4" cy="349.2" r="1.9"/><circle cx="1206.4" cy="349.2" r="1.9"/><circle cx="1217.4" cy="349.2" r="1.9"/><path d="M1118.8,361.7 A1.9,1.9 0 0 1 1118.8,365.5 Z"/><circle cx="1129.8" cy="363.6" r="1.9"/><circle cx="1140.8" cy="363.6" r="1.9"/><circle cx="1151.8" cy="363.6" r="1.9"/><circle cx="1162.8" cy="363.6" r="1.9"/><circle cx="1173.8" cy="363.6" r="1.9"/><circle cx="1184.8" cy="363.6" r="1.9"/><circle cx="1195.8" cy="363.6" r="1.9"/><circle cx="1206.8" cy="363.6" r="1.9"/><path d="M1108.5,373.9 A1.9,1.9 0 0 1 1108.5,377.7 Z"/><circle cx="1119.5" cy="375.8" r="1.9"/><circle cx="1130.5" cy="375.8" r="1.9"/><circle cx="1141.5" cy="375.8" r="1.9"/><circle cx="1152.5" cy="375.8" r="1.9"/><circle cx="1163.5" cy="375.8" r="1.9"/><circle cx="1174.5" cy="375.8" r="1.9"/><circle cx="1185.5" cy="375.8" r="1.9"/><circle cx="1196.5" cy="375.8" r="1.9"/><path d="M1098.0,384.7 A1.9,1.9 0 0 1 1098.0,388.5 Z"/><circle cx="1109.0" cy="386.6" r="1.9"/><circle cx="1120.0" cy="386.6" r="1.9"/><circle cx="1131.0" cy="386.6" r="1.9"/><circle cx="1142.0" cy="386.6" r="1.9"/><circle cx="1153.0" cy="386.6" r="1.9"/><circle cx="1164.0" cy="386.6" r="1.9"/><circle cx="1175.0" cy="386.6" r="1.9"/><circle cx="1186.0" cy="386.6" r="1.9"/><path d="M1087.6,393.6 A1.9,1.9 0 0 1 1087.6,397.4 Z"/><circle cx="1098.6" cy="395.5" r="1.9"/><circle cx="1109.6" cy="395.5" r="1.9"/><circle cx="1120.6" cy="395.5" r="1.9"/><circle cx="1131.6" cy="395.5" r="1.9"/><circle cx="1142.6" cy="395.5" r="1.9"/><circle cx="1153.6" cy="395.5" r="1.9"/><circle cx="1164.6" cy="395.5" r="1.9"/><path d="M1076.5,401.3 A1.9,1.9 0 0 1 1076.5,405.1 Z"/><circle cx="1087.5" cy="403.2" r="1.9"/><circle cx="1098.5" cy="403.2" r="1.9"/><circle cx="1109.5" cy="403.2" r="1.9"/><circle cx="1120.5" cy="403.2" r="1.9"/><circle cx="1131.5" cy="403.2" r="1.9"/><circle cx="1142.5" cy="403.2" r="1.9"/><circle cx="1153.5" cy="403.2" r="1.9"/><path d="M1064.4,407.9 A1.9,1.9 0 0 1 1064.4,411.7 Z"/><circle cx="1075.4" cy="409.8" r="1.9"/><circle cx="1086.4" cy="409.8" r="1.9"/><circle cx="1097.4" cy="409.8" r="1.9"/><circle cx="1108.4" cy="409.8" r="1.9"/><circle cx="1119.4" cy="409.8" r="1.9"/><circle cx="1130.4" cy="409.8" r="1.9"/><circle cx="1141.4" cy="409.8" r="1.9"/><path d="M1051.2,412.4 A1.9,1.9 0 0 1 1051.2,416.2 Z"/><circle cx="1062.2" cy="414.3" r="1.9"/><circle cx="1073.2" cy="414.3" r="1.9"/><circle cx="1084.2" cy="414.3" r="1.9"/><circle cx="1095.2" cy="414.3" r="1.9"/><circle cx="1106.2" cy="414.3" r="1.9"/><path d="M1036.9,416.8 A1.9,1.9 0 0 1 1036.9,420.6 Z"/><circle cx="1047.9" cy="418.7" r="1.9"/><circle cx="1058.9" cy="418.7" r="1.9"/><circle cx="1069.9" cy="418.7" r="1.9"/><circle cx="1080.9" cy="418.7" r="1.9"/><circle cx="1091.9" cy="418.7" r="1.9"/></g></g><path d="M102.8,76.2 V450" stroke="#000" stroke-width="3.6" fill="none"/><path d="M86.8,448.2 H102.8" stroke="#000" stroke-width="3.6"/><text transform="translate(83.0,458.6) scale(0.95,1)" text-anchor="end" class="tk">0</text><path d="M86.8,355.6 H102.8" stroke="#000" stroke-width="3.6"/><text transform="translate(83.0,366.0) scale(0.95,1)" text-anchor="end" class="tk">5</text><path d="M86.8,263.1 H102.8" stroke="#000" stroke-width="3.6"/><text transform="translate(83.0,273.5) scale(0.95,1)" text-anchor="end" class="tk">10</text><path d="M86.8,170.5 H102.8" stroke="#000" stroke-width="3.6"/><text transform="translate(83.0,180.9) scale(0.95,1)" text-anchor="end" class="tk">15</text><path d="M86.8,78.0 H102.8" stroke="#000" stroke-width="3.6"/><text transform="translate(83.0,88.4) scale(0.95,1)" text-anchor="end" class="tk">20</text><path d="M101.0,448.2 H659.8" stroke="#000" stroke-width="3.6" fill="none"/><path d="M102.8,448.2 V464.2" stroke="#000" stroke-width="3.6"/><text transform="translate(103.1,495.5) scale(0.98,1)" text-anchor="middle" class="tk">0.0</text><path d="M121.3,448.2 V456.8" stroke="#000" stroke-width="3.6"/><path d="M139.8,448.2 V456.8" stroke="#000" stroke-width="3.6"/><path d="M158.3,448.2 V456.8" stroke="#000" stroke-width="3.6"/><path d="M176.8,448.2 V456.8" stroke="#000" stroke-width="3.6"/><path d="M195.3,448.2 V456.8" stroke="#000" stroke-width="3.6"/><path d="M213.8,448.2 V456.8" stroke="#000" stroke-width="3.6"/><path d="M232.3,448.2 V456.8" stroke="#000" stroke-width="3.6"/><path d="M250.9,448.2 V456.8" stroke="#000" stroke-width="3.6"/><path d="M269.4,448.2 V456.8" stroke="#000" stroke-width="3.6"/><path d="M287.9,448.2 V464.2" stroke="#000" stroke-width="3.6"/><text transform="translate(288.2,495.5) scale(0.98,1)" text-anchor="middle" class="tk">0.1</text><path d="M306.4,448.2 V456.8" stroke="#000" stroke-width="3.6"/><path d="M324.9,448.2 V456.8" stroke="#000" stroke-width="3.6"/><path d="M343.4,448.2 V456.8" stroke="#000" stroke-width="3.6"/><path d="M361.9,448.2 V456.8" stroke="#000" stroke-width="3.6"/><path d="M380.4,448.2 V456.8" stroke="#000" stroke-width="3.6"/><path d="M398.9,448.2 V456.8" stroke="#000" stroke-width="3.6"/><path d="M417.4,448.2 V456.8" stroke="#000" stroke-width="3.6"/><path d="M435.9,448.2 V456.8" stroke="#000" stroke-width="3.6"/><path d="M454.4,448.2 V456.8" stroke="#000" stroke-width="3.6"/><path d="M472.9,448.2 V464.2" stroke="#000" stroke-width="3.6"/><text transform="translate(473.2,495.5) scale(0.98,1)" text-anchor="middle" class="tk">0.2</text><path d="M491.4,448.2 V456.8" stroke="#000" stroke-width="3.6"/><path d="M510.0,448.2 V456.8" stroke="#000" stroke-width="3.6"/><path d="M528.5,448.2 V456.8" stroke="#000" stroke-width="3.6"/><path d="M547.0,448.2 V456.8" stroke="#000" stroke-width="3.6"/><path d="M565.5,448.2 V456.8" stroke="#000" stroke-width="3.6"/><path d="M584.0,448.2 V456.8" stroke="#000" stroke-width="3.6"/><path d="M602.5,448.2 V456.8" stroke="#000" stroke-width="3.6"/><path d="M621.0,448.2 V456.8" stroke="#000" stroke-width="3.6"/><path d="M639.5,448.2 V456.8" stroke="#000" stroke-width="3.6"/><path d="M658.0,448.2 V464.2" stroke="#000" stroke-width="3.6"/><text transform="translate(658.3,495.5) scale(0.98,1)" text-anchor="middle" class="tk">0.3</text><path d="M822.6,76.2 V450" stroke="#000" stroke-width="3.6" fill="none"/><path d="M806.6,448.2 H822.6" stroke="#000" stroke-width="3.6"/><text transform="translate(802.8000000000001,458.6) scale(0.95,1)" text-anchor="end" class="tk">0</text><path d="M806.6,355.6 H822.6" stroke="#000" stroke-width="3.6"/><text transform="translate(802.8000000000001,366.0) scale(0.95,1)" text-anchor="end" class="tk">5</text><path d="M806.6,263.1 H822.6" stroke="#000" stroke-width="3.6"/><text transform="translate(802.8000000000001,273.5) scale(0.95,1)" text-anchor="end" class="tk">10</text><path d="M806.6,170.5 H822.6" stroke="#000" stroke-width="3.6"/><text transform="translate(802.8000000000001,180.9) scale(0.95,1)" text-anchor="end" class="tk">15</text><path d="M806.6,78.0 H822.6" stroke="#000" stroke-width="3.6"/><text transform="translate(802.8000000000001,88.4) scale(0.95,1)" text-anchor="end" class="tk">20</text><path d="M820.8000000000001,448.2 H1379.6000000000001" stroke="#000" stroke-width="3.6" fill="none"/><path d="M822.6,448.2 V464.2" stroke="#000" stroke-width="3.6"/><text transform="translate(822.9,495.5) scale(0.98,1)" text-anchor="middle" class="tk">0.0</text><path d="M841.1,448.2 V456.8" stroke="#000" stroke-width="3.6"/><path d="M859.6,448.2 V456.8" stroke="#000" stroke-width="3.6"/><path d="M878.1,448.2 V456.8" stroke="#000" stroke-width="3.6"/><path d="M896.6,448.2 V456.8" stroke="#000" stroke-width="3.6"/><path d="M915.1,448.2 V456.8" stroke="#000" stroke-width="3.6"/><path d="M933.6,448.2 V456.8" stroke="#000" stroke-width="3.6"/><path d="M952.1,448.2 V456.8" stroke="#000" stroke-width="3.6"/><path d="M970.7,448.2 V456.8" stroke="#000" stroke-width="3.6"/><path d="M989.2,448.2 V456.8" stroke="#000" stroke-width="3.6"/><path d="M1007.7,448.2 V464.2" stroke="#000" stroke-width="3.6"/><text transform="translate(1008.0,495.5) scale(0.98,1)" text-anchor="middle" class="tk">0.1</text><path d="M1026.2,448.2 V456.8" stroke="#000" stroke-width="3.6"/><path d="M1044.7,448.2 V456.8" stroke="#000" stroke-width="3.6"/><path d="M1063.2,448.2 V456.8" stroke="#000" stroke-width="3.6"/><path d="M1081.7,448.2 V456.8" stroke="#000" stroke-width="3.6"/><path d="M1100.2,448.2 V456.8" stroke="#000" stroke-width="3.6"/><path d="M1118.7,448.2 V456.8" stroke="#000" stroke-width="3.6"/><path d="M1137.2,448.2 V456.8" stroke="#000" stroke-width="3.6"/><path d="M1155.7,448.2 V456.8" stroke="#000" stroke-width="3.6"/><path d="M1174.2,448.2 V456.8" stroke="#000" stroke-width="3.6"/><path d="M1192.7,448.2 V464.2" stroke="#000" stroke-width="3.6"/><text transform="translate(1193.0,495.5) scale(0.98,1)" text-anchor="middle" class="tk">0.2</text><path d="M1211.2,448.2 V456.8" stroke="#000" stroke-width="3.6"/><path d="M1229.8,448.2 V456.8" stroke="#000" stroke-width="3.6"/><path d="M1248.3,448.2 V456.8" stroke="#000" stroke-width="3.6"/><path d="M1266.8,448.2 V456.8" stroke="#000" stroke-width="3.6"/><path d="M1285.3,448.2 V456.8" stroke="#000" stroke-width="3.6"/><path d="M1303.8,448.2 V456.8" stroke="#000" stroke-width="3.6"/><path d="M1322.3,448.2 V456.8" stroke="#000" stroke-width="3.6"/><path d="M1340.8,448.2 V456.8" stroke="#000" stroke-width="3.6"/><path d="M1359.3,448.2 V456.8" stroke="#000" stroke-width="3.6"/><path d="M1377.8,448.2 V464.2" stroke="#000" stroke-width="3.6"/><text transform="translate(1378.1,495.5) scale(0.98,1)" text-anchor="middle" class="tk">0.3</text><path d="M122.2,88.2 H162.2" stroke="#ff3a3a" stroke-width="6.3"/><path d="M122.2,118.2 H162.2" stroke="#3a3aff" stroke-width="6.3"/><text x="184.7" y="98.4" class="lg" fill="#ff3a3a" textLength="35" lengthAdjust="spacingAndGlyphs">LV</text><text x="184.7" y="128" class="lg" fill="#3a3aff" textLength="40" lengthAdjust="spacingAndGlyphs">RV</text><path d="M845.4,88.2 H885.4" stroke="#ff3a3a" stroke-width="6.3"/><path d="M845.4,118.2 H885.4" stroke="#3a3aff" stroke-width="6.3"/><text x="907.9" y="98.4" class="lg" fill="#ff3a3a" textLength="35" lengthAdjust="spacingAndGlyphs">LV</text><text x="907.9" y="128" class="lg" fill="#3a3aff" textLength="40" lengthAdjust="spacingAndGlyphs">RV</text><text x="1.2" y="33.4" class="pl" style="font-size:45px">A</text><text x="711.2" y="32.7" class="pl" style="font-size:44px">B</text><text x="274" y="29.9" class="ti" textLength="214" lengthAdjust="spacingAndGlyphs">Longitudinal</text><text x="968.5" y="28.9" class="ti" textLength="264" lengthAdjust="spacingAndGlyphs">Circumferential</text><text x="287.5" y="540.5" class="xl">Green Strain</text><text x="1007.5" y="540.5" class="xl">Green Strain</text><text transform="translate(35.1,412.3) rotate(-90)" class="yl"><tspan>2</tspan><tspan font-size="24" dy="-13.6">nd</tspan><tspan dy="13.6" dx="0"> P-K Stress (kPa)</tspan></text><text transform="translate(755.1,412.3) rotate(-90)" class="yl"><tspan>2</tspan><tspan font-size="24" dy="-13.6">nd</tspan><tspan dy="13.6" dx="0"> P-K Stress (kPa)</tspan></text>
</svg></body></html>
